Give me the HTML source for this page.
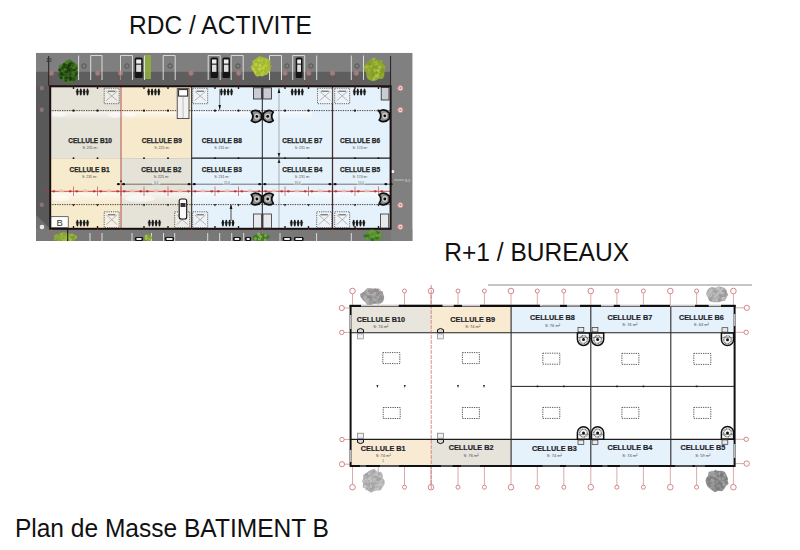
<!DOCTYPE html><html><head><meta charset="utf-8"><style>html,body{margin:0;padding:0;background:#fff;width:800px;height:550px;overflow:hidden}svg{display:block}text{font-family:"Liberation Sans",sans-serif}</style></head><body>
<svg width="800" height="550" viewBox="0 0 800 550">
<text transform="translate(129.1,33.5) scale(1.023,1.05)" font-size="24" fill="#111">RDC / ACTIVITE</text>
<text transform="translate(444.3,261) scale(1.023,1.05)" font-size="24" fill="#111">R+1 / BUREAUX</text>
<text transform="translate(14.9,537) scale(1.023,1.05)" font-size="24" fill="#111">Plan de Masse BATIMENT B</text>
<defs><clipPath id="p1"><rect x="36" y="52.8" width="376.5" height="188.2"/></clipPath></defs><g clip-path="url(#p1)">
<rect x="36.00" y="52.80" width="376.50" height="188.20" fill="#7f7f7f" />
<rect x="36.00" y="71.80" width="354.50" height="14.50" fill="#5e5e5e" />
<rect x="36.00" y="86.00" width="13.50" height="143.00" fill="#595959" />
<polygon points="36,215 49.5,228 49.5,229 36,229" fill="#727272"/>
<rect x="36.00" y="229.00" width="376.50" height="12.00" fill="#787878" />
<rect x="391.00" y="53.00" width="21.50" height="188.00" fill="#808080" />
<line x1="78.60" y1="55.50" x2="78.60" y2="80.00" stroke="#e8e8e8" stroke-width="0.9" />
<line x1="90.70" y1="55.50" x2="90.70" y2="80.00" stroke="#e8e8e8" stroke-width="0.9" />
<line x1="102.00" y1="55.50" x2="102.00" y2="80.00" stroke="#e8e8e8" stroke-width="0.9" />
<line x1="120.50" y1="55.50" x2="120.50" y2="80.00" stroke="#e8e8e8" stroke-width="0.9" />
<line x1="132.50" y1="55.50" x2="132.50" y2="80.00" stroke="#e8e8e8" stroke-width="0.9" />
<line x1="144.50" y1="55.50" x2="144.50" y2="80.00" stroke="#e8e8e8" stroke-width="0.9" />
<line x1="163.20" y1="55.50" x2="163.20" y2="80.00" stroke="#e8e8e8" stroke-width="0.9" />
<line x1="175.20" y1="55.50" x2="175.20" y2="80.00" stroke="#e8e8e8" stroke-width="0.9" />
<line x1="208.20" y1="55.50" x2="208.20" y2="80.00" stroke="#e8e8e8" stroke-width="0.9" />
<line x1="220.20" y1="55.50" x2="220.20" y2="80.00" stroke="#e8e8e8" stroke-width="0.9" />
<line x1="231.20" y1="55.50" x2="231.20" y2="80.00" stroke="#e8e8e8" stroke-width="0.9" />
<line x1="243.20" y1="55.50" x2="243.20" y2="80.00" stroke="#e8e8e8" stroke-width="0.9" />
<line x1="269.50" y1="55.50" x2="269.50" y2="80.00" stroke="#e8e8e8" stroke-width="0.9" />
<line x1="281.50" y1="55.50" x2="281.50" y2="80.00" stroke="#e8e8e8" stroke-width="0.9" />
<line x1="292.70" y1="55.50" x2="292.70" y2="80.00" stroke="#e8e8e8" stroke-width="0.9" />
<line x1="304.70" y1="55.50" x2="304.70" y2="80.00" stroke="#e8e8e8" stroke-width="0.9" />
<line x1="316.70" y1="55.50" x2="316.70" y2="80.00" stroke="#e8e8e8" stroke-width="0.9" />
<line x1="351.30" y1="55.50" x2="351.30" y2="80.00" stroke="#e8e8e8" stroke-width="0.9" />
<line x1="363.50" y1="55.50" x2="363.50" y2="80.00" stroke="#e8e8e8" stroke-width="0.9" />
<line x1="90.70" y1="55.50" x2="102.00" y2="55.50" stroke="#e0e0e0" stroke-width="0.9" />
<line x1="120.50" y1="55.50" x2="132.50" y2="55.50" stroke="#e0e0e0" stroke-width="0.9" />
<line x1="163.20" y1="55.50" x2="175.20" y2="55.50" stroke="#e0e0e0" stroke-width="0.9" />
<line x1="208.20" y1="55.50" x2="220.20" y2="55.50" stroke="#e0e0e0" stroke-width="0.9" />
<line x1="231.20" y1="55.50" x2="243.20" y2="55.50" stroke="#e0e0e0" stroke-width="0.9" />
<line x1="269.50" y1="55.50" x2="281.50" y2="55.50" stroke="#e0e0e0" stroke-width="0.9" />
<line x1="292.70" y1="55.50" x2="304.70" y2="55.50" stroke="#e0e0e0" stroke-width="0.9" />
<rect x="145.00" y="55.00" width="6.00" height="24.00" fill="#8fb03a" opacity="0.85"/>
<rect x="134.70" y="57.50" width="8.00" height="20.50" rx="1.5" fill="#151515"/>
<rect x="136.20" y="59.50" width="5.00" height="4.10" fill="#eee" />
<rect x="136.20" y="64.67" width="5.00" height="7.17" fill="#ddd" />
<rect x="210.50" y="57.50" width="7.50" height="20.50" rx="1.5" fill="#151515"/>
<rect x="212.00" y="59.50" width="4.50" height="4.10" fill="#eee" />
<rect x="212.00" y="64.67" width="4.50" height="7.17" fill="#ddd" />
<rect x="222.40" y="57.50" width="7.60" height="20.50" rx="1.5" fill="#151515"/>
<rect x="223.90" y="59.50" width="4.60" height="4.10" fill="#eee" />
<rect x="223.90" y="64.67" width="4.60" height="7.17" fill="#ddd" />
<rect x="295.70" y="57.50" width="6.80" height="20.50" rx="1.5" fill="#151515"/>
<rect x="297.20" y="59.50" width="3.80" height="4.10" fill="#eee" />
<rect x="297.20" y="64.67" width="3.80" height="7.17" fill="#ddd" />
<circle cx="84" cy="66" r="2.2" fill="none" stroke="#4a4a4a" stroke-width="0.8"/>
<circle cx="127" cy="66" r="2.2" fill="none" stroke="#4a4a4a" stroke-width="0.8"/>
<circle cx="170" cy="66" r="2.2" fill="none" stroke="#4a4a4a" stroke-width="0.8"/>
<circle cx="238" cy="66" r="2.2" fill="none" stroke="#4a4a4a" stroke-width="0.8"/>
<circle cx="287" cy="66" r="2.2" fill="none" stroke="#4a4a4a" stroke-width="0.8"/>
<circle cx="311" cy="66" r="2.2" fill="none" stroke="#4a4a4a" stroke-width="0.8"/>
<circle cx="357" cy="66" r="2.2" fill="none" stroke="#4a4a4a" stroke-width="0.8"/>
<polygon points="78.19,72.00 77.37,74.98 77.33,78.49 74.39,79.82 72.69,82.62 69.81,83.07 67.10,82.20 64.14,82.54 62.46,79.74 59.93,78.15 59.62,74.91 59.20,72.00 58.76,68.80 59.09,65.24 62.32,64.07 64.44,62.20 66.90,60.19 70.02,59.28 72.73,61.28 74.93,63.48 78.02,65.01 77.12,69.11" fill="#4a7a28"/>
<circle cx="71.15" cy="68.16" r="0.86" fill="#1a3a0c" opacity="0.75"/>
<circle cx="62.54" cy="68.83" r="1.45" fill="#1a3a0c" opacity="0.75"/>
<circle cx="62.27" cy="68.10" r="1.11" fill="#1a3a0c" opacity="0.75"/>
<circle cx="62.06" cy="68.93" r="1.25" fill="#2e5a18" opacity="0.75"/>
<circle cx="69.39" cy="65.52" r="1.72" fill="#2e5a18" opacity="0.75"/>
<circle cx="65.94" cy="80.62" r="1.47" fill="#1a3a0c" opacity="0.75"/>
<circle cx="72.29" cy="74.49" r="1.24" fill="#2e5a18" opacity="0.75"/>
<circle cx="67.84" cy="67.11" r="1.78" fill="#1a3a0c" opacity="0.75"/>
<circle cx="65.29" cy="71.74" r="1.08" fill="#2e5a18" opacity="0.75"/>
<circle cx="60.48" cy="76.80" r="0.79" fill="#2e5a18" opacity="0.75"/>
<circle cx="65.77" cy="76.68" r="1.25" fill="#2e5a18" opacity="0.75"/>
<circle cx="70.42" cy="73.05" r="1.00" fill="#1a3a0c" opacity="0.75"/>
<circle cx="75.30" cy="75.13" r="1.41" fill="#2e5a18" opacity="0.75"/>
<circle cx="67.28" cy="77.73" r="1.44" fill="#1a3a0c" opacity="0.75"/>
<circle cx="73.01" cy="69.96" r="1.37" fill="#2e5a18" opacity="0.75"/>
<circle cx="75.72" cy="75.21" r="0.84" fill="#1a3a0c" opacity="0.75"/>
<circle cx="61.40" cy="77.91" r="1.25" fill="#1a3a0c" opacity="0.75"/>
<circle cx="62.30" cy="74.28" r="1.67" fill="#2e5a18" opacity="0.75"/>
<circle cx="71.20" cy="68.36" r="1.16" fill="#2e5a18" opacity="0.75"/>
<circle cx="66.29" cy="66.69" r="0.95" fill="#1a3a0c" opacity="0.75"/>
<circle cx="70.11" cy="75.87" r="0.96" fill="#2e5a18" opacity="0.75"/>
<circle cx="70.02" cy="68.73" r="1.01" fill="#1a3a0c" opacity="0.75"/>
<circle cx="63.98" cy="74.79" r="1.32" fill="#1a3a0c" opacity="0.75"/>
<circle cx="66.14" cy="65.49" r="1.38" fill="#1a3a0c" opacity="0.75"/>
<circle cx="60.24" cy="74.58" r="1.75" fill="#2e5a18" opacity="0.75"/>
<circle cx="64.18" cy="75.55" r="1.23" fill="#2e5a18" opacity="0.75"/>
<circle cx="70.09" cy="72.79" r="0.93" fill="#1a3a0c" opacity="0.75"/>
<circle cx="73.62" cy="76.88" r="0.81" fill="#1a3a0c" opacity="0.75"/>
<circle cx="59.72" cy="69.70" r="1.38" fill="#1a3a0c" opacity="0.75"/>
<circle cx="73.23" cy="66.49" r="0.86" fill="#2e5a18" opacity="0.75"/>
<circle cx="74.92" cy="69.88" r="1.22" fill="#1a3a0c" opacity="0.75"/>
<circle cx="73.73" cy="63.58" r="1.21" fill="#2e5a18" opacity="0.75"/>
<circle cx="67.31" cy="75.01" r="1.52" fill="#2e5a18" opacity="0.75"/>
<circle cx="61.09" cy="73.12" r="1.27" fill="#1a3a0c" opacity="0.75"/>
<circle cx="74.38" cy="69.85" r="0.86" fill="#1a3a0c" opacity="0.75"/>
<circle cx="68.63" cy="66.98" r="1.41" fill="#1a3a0c" opacity="0.75"/>
<circle cx="67.04" cy="67.62" r="1.10" fill="#1a3a0c" opacity="0.75"/>
<circle cx="66.10" cy="75.33" r="1.30" fill="#2e5a18" opacity="0.75"/>
<circle cx="63.91" cy="66.14" r="1.57" fill="#1a3a0c" opacity="0.75"/>
<circle cx="71.21" cy="63.34" r="1.51" fill="#1a3a0c" opacity="0.75"/>
<circle cx="70.26" cy="78.47" r="1.50" fill="#1a3a0c" opacity="0.75"/>
<circle cx="69.86" cy="65.58" r="0.91" fill="#2e5a18" opacity="0.75"/>
<circle cx="60.03" cy="75.26" r="1.79" fill="#2e5a18" opacity="0.75"/>
<circle cx="70.45" cy="73.28" r="1.22" fill="#2e5a18" opacity="0.75"/>
<circle cx="70.36" cy="79.52" r="1.69" fill="#1a3a0c" opacity="0.75"/>
<circle cx="61.34" cy="73.04" r="1.58" fill="#1a3a0c" opacity="0.75"/>
<circle cx="69.71" cy="69.49" r="1.13" fill="#1a3a0c" opacity="0.75"/>
<circle cx="65.16" cy="72.51" r="1.57" fill="#2e5a18" opacity="0.75"/>
<circle cx="76.01" cy="77.22" r="1.49" fill="#2e5a18" opacity="0.75"/>
<circle cx="61.15" cy="77.85" r="1.50" fill="#1a3a0c" opacity="0.75"/>
<circle cx="69.47" cy="71.95" r="1.35" fill="#2e5a18" opacity="0.75"/>
<circle cx="69.41" cy="68.92" r="1.61" fill="#2e5a18" opacity="0.75"/>
<circle cx="65.70" cy="67.37" r="1.30" fill="#1a3a0c" opacity="0.75"/>
<circle cx="76.37" cy="73.22" r="1.50" fill="#1a3a0c" opacity="0.75"/>
<circle cx="59.69" cy="70.34" r="1.18" fill="#1a3a0c" opacity="0.75"/>
<circle cx="70.07" cy="68.37" r="0.98" fill="#2e5a18" opacity="0.75"/>
<circle cx="60.57" cy="71.94" r="1.06" fill="#2e5a18" opacity="0.75"/>
<circle cx="69.27" cy="70.32" r="1.51" fill="#2e5a18" opacity="0.75"/>
<circle cx="64.15" cy="64.16" r="1.27" fill="#1a3a0c" opacity="0.75"/>
<circle cx="62.28" cy="70.60" r="0.72" fill="#2e5a18" opacity="0.75"/>
<circle cx="69.53" cy="64.39" r="1.55" fill="#1a3a0c" opacity="0.75"/>
<circle cx="71.15" cy="77.87" r="1.50" fill="#1a3a0c" opacity="0.75"/>
<circle cx="65.55" cy="78.23" r="1.31" fill="#1a3a0c" opacity="0.75"/>
<circle cx="69.62" cy="70.75" r="0.91" fill="#1a3a0c" opacity="0.75"/>
<circle cx="69.25" cy="65.14" r="1.32" fill="#1a3a0c" opacity="0.75"/>
<circle cx="61.98" cy="74.71" r="1.26" fill="#1a3a0c" opacity="0.75"/>
<circle cx="66.39" cy="65.95" r="1.29" fill="#2e5a18" opacity="0.75"/>
<circle cx="64.42" cy="71.78" r="1.28" fill="#2e5a18" opacity="0.75"/>
<circle cx="76.00" cy="67.47" r="0.92" fill="#2e5a18" opacity="0.75"/>
<circle cx="70.09" cy="74.23" r="1.19" fill="#1a3a0c" opacity="0.75"/>
<circle cx="65.77" cy="66.50" r="0.93" fill="#2e5a18" opacity="0.75"/>
<circle cx="70.22" cy="62.48" r="0.87" fill="#2e5a18" opacity="0.75"/>
<circle cx="73.72" cy="79.55" r="1.76" fill="#1a3a0c" opacity="0.75"/>
<circle cx="68.35" cy="69.48" r="1.67" fill="#1a3a0c" opacity="0.75"/>
<circle cx="76.62" cy="71.41" r="0.88" fill="#2e5a18" opacity="0.75"/>
<circle cx="73.74" cy="71.77" r="1.16" fill="#2e5a18" opacity="0.75"/>
<circle cx="65.24" cy="79.77" r="0.72" fill="#2e5a18" opacity="0.75"/>
<circle cx="67.63" cy="72.34" r="1.06" fill="#2e5a18" opacity="0.75"/>
<circle cx="66.63" cy="71.85" r="1.78" fill="#1a3a0c" opacity="0.75"/>
<circle cx="70.74" cy="71.52" r="0.99" fill="#1a3a0c" opacity="0.75"/>
<circle cx="71.14" cy="69.92" r="1.53" fill="#2e5a18" opacity="0.75"/>
<circle cx="72.66" cy="65.33" r="1.74" fill="#2e5a18" opacity="0.75"/>
<circle cx="73.57" cy="79.98" r="1.33" fill="#2e5a18" opacity="0.75"/>
<circle cx="69.80" cy="73.00" r="1.46" fill="#2e5a18" opacity="0.75"/>
<circle cx="71.71" cy="69.11" r="0.72" fill="#1a3a0c" opacity="0.75"/>
<circle cx="69.06" cy="69.77" r="1.64" fill="#1a3a0c" opacity="0.75"/>
<circle cx="68.16" cy="74.93" r="0.71" fill="#2e5a18" opacity="0.75"/>
<circle cx="72.14" cy="69.90" r="0.84" fill="#1a3a0c" opacity="0.75"/>
<circle cx="76.75" cy="68.13" r="0.99" fill="#1a3a0c" opacity="0.75"/>
<circle cx="69.77" cy="76.93" r="1.04" fill="#1a3a0c" opacity="0.75"/>
<polygon points="270.48,67.00 270.59,69.88 268.78,72.09 267.37,74.44 264.78,75.20 262.51,76.51 259.97,75.92 256.90,76.85 254.71,74.83 253.60,72.11 251.87,69.87 250.36,67.00 252.72,64.40 252.31,61.03 254.90,59.39 257.14,57.70 259.69,56.03 262.56,57.14 265.27,57.67 267.91,58.91 270.42,60.81 270.23,64.23" fill="#aabb3a"/>
<circle cx="264.73" cy="60.51" r="1.40" fill="#c4d34a" opacity="0.75"/>
<circle cx="269.88" cy="66.39" r="1.62" fill="#9cb52a" opacity="0.75"/>
<circle cx="267.84" cy="70.30" r="0.98" fill="#9cb52a" opacity="0.75"/>
<circle cx="267.68" cy="69.46" r="1.12" fill="#c4d34a" opacity="0.75"/>
<circle cx="255.46" cy="62.71" r="0.75" fill="#9cb52a" opacity="0.75"/>
<circle cx="264.17" cy="71.74" r="0.99" fill="#c4d34a" opacity="0.75"/>
<circle cx="267.24" cy="65.90" r="0.97" fill="#c4d34a" opacity="0.75"/>
<circle cx="261.84" cy="70.25" r="1.07" fill="#9cb52a" opacity="0.75"/>
<circle cx="255.45" cy="67.97" r="0.92" fill="#9cb52a" opacity="0.75"/>
<circle cx="267.76" cy="71.40" r="0.86" fill="#9cb52a" opacity="0.75"/>
<circle cx="257.84" cy="69.76" r="1.39" fill="#9cb52a" opacity="0.75"/>
<circle cx="256.04" cy="63.78" r="1.53" fill="#c4d34a" opacity="0.75"/>
<circle cx="261.85" cy="59.47" r="1.24" fill="#c4d34a" opacity="0.75"/>
<circle cx="260.11" cy="60.03" r="0.75" fill="#c4d34a" opacity="0.75"/>
<circle cx="260.41" cy="58.92" r="0.85" fill="#9cb52a" opacity="0.75"/>
<circle cx="264.14" cy="61.09" r="1.68" fill="#9cb52a" opacity="0.75"/>
<circle cx="262.33" cy="67.70" r="1.40" fill="#9cb52a" opacity="0.75"/>
<circle cx="257.30" cy="71.00" r="0.76" fill="#9cb52a" opacity="0.75"/>
<circle cx="256.30" cy="61.80" r="1.24" fill="#9cb52a" opacity="0.75"/>
<circle cx="259.48" cy="67.50" r="1.73" fill="#9cb52a" opacity="0.75"/>
<circle cx="260.27" cy="65.48" r="1.51" fill="#c4d34a" opacity="0.75"/>
<circle cx="264.09" cy="59.25" r="0.96" fill="#9cb52a" opacity="0.75"/>
<circle cx="262.02" cy="74.05" r="1.21" fill="#c4d34a" opacity="0.75"/>
<circle cx="268.57" cy="71.03" r="1.02" fill="#9cb52a" opacity="0.75"/>
<circle cx="256.19" cy="62.27" r="0.79" fill="#9cb52a" opacity="0.75"/>
<circle cx="257.86" cy="73.20" r="1.46" fill="#9cb52a" opacity="0.75"/>
<circle cx="262.83" cy="67.13" r="1.00" fill="#9cb52a" opacity="0.75"/>
<circle cx="258.73" cy="60.20" r="1.02" fill="#c4d34a" opacity="0.75"/>
<circle cx="255.77" cy="68.28" r="0.83" fill="#9cb52a" opacity="0.75"/>
<circle cx="260.44" cy="68.95" r="1.22" fill="#c4d34a" opacity="0.75"/>
<circle cx="253.65" cy="69.08" r="1.76" fill="#c4d34a" opacity="0.75"/>
<circle cx="266.17" cy="66.80" r="1.71" fill="#9cb52a" opacity="0.75"/>
<circle cx="263.05" cy="67.98" r="1.52" fill="#c4d34a" opacity="0.75"/>
<circle cx="263.70" cy="66.20" r="1.60" fill="#c4d34a" opacity="0.75"/>
<circle cx="266.60" cy="62.14" r="0.95" fill="#c4d34a" opacity="0.75"/>
<circle cx="258.90" cy="68.89" r="1.74" fill="#c4d34a" opacity="0.75"/>
<circle cx="255.18" cy="71.26" r="1.16" fill="#c4d34a" opacity="0.75"/>
<circle cx="258.00" cy="74.58" r="0.70" fill="#c4d34a" opacity="0.75"/>
<circle cx="262.51" cy="64.81" r="1.72" fill="#9cb52a" opacity="0.75"/>
<circle cx="264.61" cy="64.46" r="1.11" fill="#c4d34a" opacity="0.75"/>
<circle cx="254.96" cy="72.39" r="0.78" fill="#c4d34a" opacity="0.75"/>
<circle cx="261.48" cy="58.63" r="1.01" fill="#9cb52a" opacity="0.75"/>
<circle cx="263.30" cy="63.26" r="1.73" fill="#9cb52a" opacity="0.75"/>
<circle cx="266.46" cy="65.99" r="1.05" fill="#c4d34a" opacity="0.75"/>
<circle cx="262.36" cy="61.61" r="0.73" fill="#c4d34a" opacity="0.75"/>
<circle cx="268.46" cy="62.41" r="1.30" fill="#9cb52a" opacity="0.75"/>
<circle cx="268.15" cy="69.33" r="1.20" fill="#9cb52a" opacity="0.75"/>
<circle cx="258.64" cy="63.58" r="0.75" fill="#9cb52a" opacity="0.75"/>
<circle cx="263.68" cy="71.77" r="1.01" fill="#c4d34a" opacity="0.75"/>
<circle cx="260.60" cy="57.95" r="0.99" fill="#9cb52a" opacity="0.75"/>
<circle cx="259.25" cy="73.15" r="1.13" fill="#9cb52a" opacity="0.75"/>
<circle cx="260.04" cy="65.48" r="1.25" fill="#c4d34a" opacity="0.75"/>
<circle cx="256.00" cy="65.22" r="1.07" fill="#c4d34a" opacity="0.75"/>
<circle cx="255.69" cy="69.82" r="0.97" fill="#9cb52a" opacity="0.75"/>
<circle cx="260.06" cy="68.83" r="0.96" fill="#c4d34a" opacity="0.75"/>
<circle cx="262.43" cy="63.72" r="0.72" fill="#c4d34a" opacity="0.75"/>
<circle cx="255.73" cy="72.18" r="0.93" fill="#c4d34a" opacity="0.75"/>
<circle cx="260.33" cy="68.48" r="1.01" fill="#c4d34a" opacity="0.75"/>
<circle cx="265.30" cy="71.33" r="1.39" fill="#9cb52a" opacity="0.75"/>
<circle cx="268.09" cy="71.74" r="1.12" fill="#c4d34a" opacity="0.75"/>
<polygon points="385.06,69.50 384.36,72.49 384.28,75.98 382.48,78.88 378.86,78.69 376.43,80.31 373.45,81.23 370.43,80.38 367.52,78.88 366.41,75.50 366.22,72.30 363.68,69.50 364.14,66.03 366.33,63.44 368.35,61.16 370.80,59.51 373.44,57.72 376.36,59.24 378.89,60.25 382.48,60.11 382.78,64.07 385.61,66.11" fill="#90a830"/>
<circle cx="372.48" cy="60.88" r="1.68" fill="#7f9a28" opacity="0.75"/>
<circle cx="373.74" cy="69.04" r="1.56" fill="#7f9a28" opacity="0.75"/>
<circle cx="373.84" cy="68.91" r="1.49" fill="#7f9a28" opacity="0.75"/>
<circle cx="370.60" cy="64.63" r="1.18" fill="#7f9a28" opacity="0.75"/>
<circle cx="378.63" cy="72.34" r="1.74" fill="#7f9a28" opacity="0.75"/>
<circle cx="372.14" cy="72.13" r="1.36" fill="#7f9a28" opacity="0.75"/>
<circle cx="366.07" cy="67.17" r="1.01" fill="#b0c444" opacity="0.75"/>
<circle cx="369.75" cy="62.18" r="1.22" fill="#7f9a28" opacity="0.75"/>
<circle cx="373.94" cy="69.15" r="1.15" fill="#b0c444" opacity="0.75"/>
<circle cx="378.23" cy="70.77" r="1.67" fill="#b0c444" opacity="0.75"/>
<circle cx="378.31" cy="71.51" r="1.17" fill="#b0c444" opacity="0.75"/>
<circle cx="375.18" cy="70.80" r="1.07" fill="#b0c444" opacity="0.75"/>
<circle cx="371.58" cy="73.87" r="0.71" fill="#b0c444" opacity="0.75"/>
<circle cx="374.58" cy="62.88" r="0.93" fill="#7f9a28" opacity="0.75"/>
<circle cx="371.91" cy="77.72" r="0.95" fill="#7f9a28" opacity="0.75"/>
<circle cx="374.19" cy="78.78" r="0.82" fill="#b0c444" opacity="0.75"/>
<circle cx="368.36" cy="63.53" r="1.23" fill="#7f9a28" opacity="0.75"/>
<circle cx="377.76" cy="68.50" r="1.13" fill="#7f9a28" opacity="0.75"/>
<circle cx="381.67" cy="70.58" r="1.16" fill="#7f9a28" opacity="0.75"/>
<circle cx="377.29" cy="75.17" r="1.48" fill="#b0c444" opacity="0.75"/>
<circle cx="374.00" cy="59.57" r="1.72" fill="#b0c444" opacity="0.75"/>
<circle cx="377.59" cy="76.71" r="1.28" fill="#b0c444" opacity="0.75"/>
<circle cx="382.05" cy="71.06" r="1.12" fill="#b0c444" opacity="0.75"/>
<circle cx="380.62" cy="68.92" r="0.82" fill="#7f9a28" opacity="0.75"/>
<circle cx="374.09" cy="74.75" r="1.75" fill="#7f9a28" opacity="0.75"/>
<circle cx="367.77" cy="66.33" r="1.12" fill="#b0c444" opacity="0.75"/>
<circle cx="377.43" cy="64.06" r="0.75" fill="#b0c444" opacity="0.75"/>
<circle cx="377.13" cy="76.02" r="1.19" fill="#b0c444" opacity="0.75"/>
<circle cx="369.33" cy="76.56" r="0.73" fill="#b0c444" opacity="0.75"/>
<circle cx="375.09" cy="77.05" r="1.15" fill="#b0c444" opacity="0.75"/>
<circle cx="376.70" cy="69.91" r="1.71" fill="#b0c444" opacity="0.75"/>
<circle cx="375.59" cy="71.29" r="1.37" fill="#b0c444" opacity="0.75"/>
<circle cx="373.75" cy="79.15" r="1.38" fill="#b0c444" opacity="0.75"/>
<circle cx="374.83" cy="61.50" r="1.72" fill="#b0c444" opacity="0.75"/>
<circle cx="382.77" cy="69.70" r="1.71" fill="#7f9a28" opacity="0.75"/>
<circle cx="378.80" cy="70.13" r="1.22" fill="#b0c444" opacity="0.75"/>
<circle cx="379.98" cy="67.88" r="0.98" fill="#b0c444" opacity="0.75"/>
<circle cx="376.08" cy="66.77" r="1.25" fill="#7f9a28" opacity="0.75"/>
<circle cx="377.49" cy="61.61" r="1.61" fill="#7f9a28" opacity="0.75"/>
<circle cx="371.32" cy="66.30" r="1.05" fill="#b0c444" opacity="0.75"/>
<circle cx="376.42" cy="62.34" r="1.26" fill="#b0c444" opacity="0.75"/>
<circle cx="375.07" cy="65.18" r="0.77" fill="#7f9a28" opacity="0.75"/>
<circle cx="368.65" cy="70.30" r="0.88" fill="#b0c444" opacity="0.75"/>
<circle cx="381.79" cy="62.86" r="0.99" fill="#7f9a28" opacity="0.75"/>
<circle cx="376.42" cy="75.25" r="1.79" fill="#b0c444" opacity="0.75"/>
<circle cx="376.27" cy="72.14" r="1.21" fill="#7f9a28" opacity="0.75"/>
<circle cx="374.89" cy="60.45" r="1.43" fill="#7f9a28" opacity="0.75"/>
<circle cx="375.82" cy="64.79" r="1.01" fill="#b0c444" opacity="0.75"/>
<circle cx="369.65" cy="75.47" r="0.92" fill="#7f9a28" opacity="0.75"/>
<circle cx="376.52" cy="73.36" r="1.01" fill="#7f9a28" opacity="0.75"/>
<circle cx="372.56" cy="74.59" r="1.79" fill="#7f9a28" opacity="0.75"/>
<circle cx="373.63" cy="67.46" r="1.21" fill="#7f9a28" opacity="0.75"/>
<circle cx="379.71" cy="73.33" r="1.60" fill="#b0c444" opacity="0.75"/>
<circle cx="376.15" cy="68.75" r="1.02" fill="#7f9a28" opacity="0.75"/>
<circle cx="381.44" cy="71.79" r="1.61" fill="#7f9a28" opacity="0.75"/>
<circle cx="379.60" cy="67.15" r="1.65" fill="#b0c444" opacity="0.75"/>
<circle cx="368.70" cy="64.32" r="1.43" fill="#7f9a28" opacity="0.75"/>
<circle cx="380.31" cy="74.02" r="1.38" fill="#7f9a28" opacity="0.75"/>
<circle cx="379.68" cy="70.72" r="0.75" fill="#b0c444" opacity="0.75"/>
<circle cx="382.41" cy="71.47" r="1.71" fill="#7f9a28" opacity="0.75"/>
<line x1="51.30" y1="74.00" x2="51.30" y2="86.00" stroke="#8a4a4a" stroke-width="0.7" />
<circle cx="51.3" cy="73.2" r="2.3" fill="#b48a8a" stroke="#c77" stroke-width="0.6" opacity="0.75"/>
<line x1="97.70" y1="74.00" x2="97.70" y2="86.00" stroke="#8a4a4a" stroke-width="0.7" />
<circle cx="97.7" cy="73.2" r="2.3" fill="#b48a8a" stroke="#c77" stroke-width="0.6" opacity="0.75"/>
<line x1="120.60" y1="74.00" x2="120.60" y2="86.00" stroke="#8a4a4a" stroke-width="0.7" />
<circle cx="120.6" cy="73.2" r="2.3" fill="#b48a8a" stroke="#c77" stroke-width="0.6" opacity="0.75"/>
<line x1="191.00" y1="74.00" x2="191.00" y2="86.00" stroke="#8a4a4a" stroke-width="0.7" />
<circle cx="191" cy="73.2" r="2.3" fill="#b48a8a" stroke="#c77" stroke-width="0.6" opacity="0.75"/>
<line x1="238.75" y1="74.00" x2="238.75" y2="86.00" stroke="#8a4a4a" stroke-width="0.7" />
<circle cx="238.75" cy="73.2" r="2.3" fill="#b48a8a" stroke="#c77" stroke-width="0.6" opacity="0.75"/>
<line x1="285.00" y1="74.00" x2="285.00" y2="86.00" stroke="#8a4a4a" stroke-width="0.7" />
<circle cx="285" cy="73.2" r="2.3" fill="#b48a8a" stroke="#c77" stroke-width="0.6" opacity="0.75"/>
<line x1="308.75" y1="74.00" x2="308.75" y2="86.00" stroke="#8a4a4a" stroke-width="0.7" />
<circle cx="308.75" cy="73.2" r="2.3" fill="#b48a8a" stroke="#c77" stroke-width="0.6" opacity="0.75"/>
<line x1="332.50" y1="74.00" x2="332.50" y2="86.00" stroke="#8a4a4a" stroke-width="0.7" />
<circle cx="332.5" cy="73.2" r="2.3" fill="#b48a8a" stroke="#c77" stroke-width="0.6" opacity="0.75"/>
<line x1="356.25" y1="74.00" x2="356.25" y2="86.00" stroke="#8a4a4a" stroke-width="0.7" />
<circle cx="356.25" cy="73.2" r="2.3" fill="#b48a8a" stroke="#c77" stroke-width="0.6" opacity="0.75"/>
<line x1="48.70" y1="56.00" x2="48.70" y2="86.00" stroke="#222" stroke-width="1" />
<line x1="390.60" y1="56.00" x2="390.60" y2="86.00" stroke="#222" stroke-width="1" />
<text x="46" y="62" font-size="5" fill="#222">13</text>
<circle cx="41.80" cy="88.00" r="2.20" fill="#9a7a7a" opacity="0.8"/>
<circle cx="41.80" cy="109.80" r="2.20" fill="#9a7a7a" opacity="0.8"/>
<circle cx="41.80" cy="204.70" r="2.20" fill="#9a7a7a" opacity="0.8"/>
<circle cx="42.00" cy="227.00" r="2.30" fill="#f0e8e8" />
<circle cx="400.40" cy="88.20" r="2.60" fill="#f4e4e4" stroke="#d08080" stroke-width="1"/>
<circle cx="400.40" cy="88.20" r="1.10" fill="#d08080" />
<circle cx="400.40" cy="110.00" r="2.60" fill="#f4e4e4" stroke="#d08080" stroke-width="1"/>
<circle cx="400.40" cy="110.00" r="1.10" fill="#d08080" />
<circle cx="400.40" cy="205.20" r="2.60" fill="#f4e4e4" stroke="#d08080" stroke-width="1"/>
<circle cx="400.40" cy="205.20" r="1.10" fill="#d08080" />
<circle cx="400.40" cy="226.80" r="2.60" fill="#f4e4e4" stroke="#d08080" stroke-width="1"/>
<circle cx="400.40" cy="226.80" r="1.10" fill="#d08080" />
<circle cx="392.70" cy="171.60" r="2.00" fill="#f4f4f4" stroke="#333" stroke-width="0.4"/>
<line x1="394.00" y1="180.00" x2="404.00" y2="180.00" stroke="#ddd" stroke-width="0.7" />
<text x="405" y="182" font-size="4" fill="#ddd">8.5</text>
<rect x="50.00" y="86.30" width="71.00" height="71.90" fill="#e5e2d8" />
<rect x="50.00" y="158.20" width="71.00" height="70.60" fill="#f7ebce" />
<rect x="121.00" y="86.30" width="70.70" height="71.90" fill="#f7eacc" />
<rect x="121.00" y="158.20" width="70.70" height="70.60" fill="#e5e2d8" />
<rect x="191.70" y="86.30" width="70.60" height="71.90" fill="#e5f2fb" />
<rect x="191.70" y="158.20" width="70.60" height="70.60" fill="#e5f2fb" />
<rect x="262.30" y="86.30" width="70.20" height="71.90" fill="#e5f2fb" />
<rect x="262.30" y="158.20" width="70.20" height="70.60" fill="#e5f2fb" />
<rect x="332.50" y="86.30" width="58.00" height="71.90" fill="#e5f2fb" />
<rect x="332.50" y="158.20" width="58.00" height="70.60" fill="#e5f2fb" />
<defs><linearGradient id="gl1" x1="0" y1="0" x2="0" y2="1"><stop offset="0" stop-color="#fff" stop-opacity="0.7"/><stop offset="1" stop-color="#fff" stop-opacity="0"/></linearGradient></defs>
<rect x="51.00" y="111.50" width="261.00" height="8.00" fill="url(#gl1)" />
<rect x="51.00" y="192.50" width="339.00" height="11.00" fill="url(#gl1)" />
<ellipse cx="59.0" cy="114.5" rx="7.0" ry="2.5" fill="#fff" opacity="0.5"/>
<ellipse cx="115.0" cy="115.0" rx="7.0" ry="3.0" fill="#fff" opacity="0.5"/>
<ellipse cx="130.0" cy="114.5" rx="6.0" ry="2.5" fill="#fff" opacity="0.5"/>
<ellipse cx="61.0" cy="198.0" rx="9.0" ry="3.0" fill="#fff" opacity="0.5"/>
<ellipse cx="140.0" cy="198.5" rx="15.0" ry="3.5" fill="#fff" opacity="0.5"/>
<line x1="50.00" y1="110.60" x2="390.00" y2="110.60" stroke="#3a2a2a" stroke-width="0.9" stroke-dasharray="1.3 1.1"/>
<line x1="50.00" y1="204.60" x2="390.00" y2="204.60" stroke="#3a2a2a" stroke-width="0.9" stroke-dasharray="1.3 1.1"/>
<rect x="72.60" y="109.60" width="1.80" height="2.00" fill="#111" />
<polygon points="72.3,204.2 74.7,204.2 73.5,206.6" fill="#111"/>
<rect x="96.60" y="109.60" width="1.80" height="2.00" fill="#111" />
<polygon points="96.3,204.2 98.7,204.2 97.5,206.6" fill="#111"/>
<rect x="143.10" y="109.60" width="1.80" height="2.00" fill="#111" />
<polygon points="142.8,204.2 145.2,204.2 144,206.6" fill="#111"/>
<rect x="167.10" y="109.60" width="1.80" height="2.00" fill="#111" />
<polygon points="166.8,204.2 169.2,204.2 168,206.6" fill="#111"/>
<rect x="214.10" y="109.60" width="1.80" height="2.00" fill="#111" />
<polygon points="213.8,204.2 216.2,204.2 215,206.6" fill="#111"/>
<rect x="237.60" y="109.60" width="1.80" height="2.00" fill="#111" />
<polygon points="237.3,204.2 239.7,204.2 238.5,206.6" fill="#111"/>
<rect x="284.10" y="109.60" width="1.80" height="2.00" fill="#111" />
<polygon points="283.8,204.2 286.2,204.2 285,206.6" fill="#111"/>
<rect x="307.60" y="109.60" width="1.80" height="2.00" fill="#111" />
<polygon points="307.3,204.2 309.7,204.2 308.5,206.6" fill="#111"/>
<rect x="354.10" y="109.60" width="1.80" height="2.00" fill="#111" />
<polygon points="353.8,204.2 356.2,204.2 355,206.6" fill="#111"/>
<rect x="377.60" y="109.60" width="1.80" height="2.00" fill="#111" />
<polygon points="377.3,204.2 379.7,204.2 378.5,206.6" fill="#111"/>
<line x1="50.00" y1="191.30" x2="390.00" y2="191.30" stroke="#dc4a4a" stroke-width="1" />
<line x1="50.50" y1="186.50" x2="50.50" y2="196.00" stroke="#c05050" stroke-width="0.7" />
<ellipse cx="47.20" cy="191.3" rx="1.5" ry="1.1" fill="#b03a3a"/>
<ellipse cx="53.80" cy="191.3" rx="1.5" ry="1.1" fill="#b03a3a"/>
<line x1="73.50" y1="186.50" x2="73.50" y2="196.00" stroke="#c05050" stroke-width="0.7" />
<ellipse cx="70.20" cy="191.3" rx="1.5" ry="1.1" fill="#b03a3a"/>
<ellipse cx="76.80" cy="191.3" rx="1.5" ry="1.1" fill="#b03a3a"/>
<line x1="97.50" y1="186.50" x2="97.50" y2="196.00" stroke="#c05050" stroke-width="0.7" />
<ellipse cx="94.20" cy="191.3" rx="1.5" ry="1.1" fill="#b03a3a"/>
<ellipse cx="100.80" cy="191.3" rx="1.5" ry="1.1" fill="#b03a3a"/>
<line x1="121.00" y1="186.50" x2="121.00" y2="196.00" stroke="#c05050" stroke-width="0.7" />
<ellipse cx="117.70" cy="191.3" rx="1.5" ry="1.1" fill="#b03a3a"/>
<ellipse cx="124.30" cy="191.3" rx="1.5" ry="1.1" fill="#b03a3a"/>
<line x1="144.00" y1="186.50" x2="144.00" y2="196.00" stroke="#c05050" stroke-width="0.7" />
<ellipse cx="140.70" cy="191.3" rx="1.5" ry="1.1" fill="#b03a3a"/>
<ellipse cx="147.30" cy="191.3" rx="1.5" ry="1.1" fill="#b03a3a"/>
<line x1="168.00" y1="186.50" x2="168.00" y2="196.00" stroke="#c05050" stroke-width="0.7" />
<ellipse cx="164.70" cy="191.3" rx="1.5" ry="1.1" fill="#b03a3a"/>
<ellipse cx="171.30" cy="191.3" rx="1.5" ry="1.1" fill="#b03a3a"/>
<line x1="191.70" y1="186.50" x2="191.70" y2="196.00" stroke="#c05050" stroke-width="0.7" />
<ellipse cx="188.40" cy="191.3" rx="1.5" ry="1.1" fill="#b03a3a"/>
<ellipse cx="195.00" cy="191.3" rx="1.5" ry="1.1" fill="#b03a3a"/>
<line x1="215.00" y1="186.50" x2="215.00" y2="196.00" stroke="#c05050" stroke-width="0.7" />
<ellipse cx="211.70" cy="191.3" rx="1.5" ry="1.1" fill="#b03a3a"/>
<ellipse cx="218.30" cy="191.3" rx="1.5" ry="1.1" fill="#b03a3a"/>
<line x1="238.50" y1="186.50" x2="238.50" y2="196.00" stroke="#c05050" stroke-width="0.7" />
<ellipse cx="235.20" cy="191.3" rx="1.5" ry="1.1" fill="#b03a3a"/>
<ellipse cx="241.80" cy="191.3" rx="1.5" ry="1.1" fill="#b03a3a"/>
<line x1="262.30" y1="186.50" x2="262.30" y2="196.00" stroke="#c05050" stroke-width="0.7" />
<ellipse cx="259.00" cy="191.3" rx="1.5" ry="1.1" fill="#b03a3a"/>
<ellipse cx="265.60" cy="191.3" rx="1.5" ry="1.1" fill="#b03a3a"/>
<line x1="285.00" y1="186.50" x2="285.00" y2="196.00" stroke="#c05050" stroke-width="0.7" />
<ellipse cx="281.70" cy="191.3" rx="1.5" ry="1.1" fill="#b03a3a"/>
<ellipse cx="288.30" cy="191.3" rx="1.5" ry="1.1" fill="#b03a3a"/>
<line x1="308.50" y1="186.50" x2="308.50" y2="196.00" stroke="#c05050" stroke-width="0.7" />
<ellipse cx="305.20" cy="191.3" rx="1.5" ry="1.1" fill="#b03a3a"/>
<ellipse cx="311.80" cy="191.3" rx="1.5" ry="1.1" fill="#b03a3a"/>
<line x1="332.50" y1="186.50" x2="332.50" y2="196.00" stroke="#c05050" stroke-width="0.7" />
<ellipse cx="329.20" cy="191.3" rx="1.5" ry="1.1" fill="#b03a3a"/>
<ellipse cx="335.80" cy="191.3" rx="1.5" ry="1.1" fill="#b03a3a"/>
<line x1="355.00" y1="186.50" x2="355.00" y2="196.00" stroke="#c05050" stroke-width="0.7" />
<ellipse cx="351.70" cy="191.3" rx="1.5" ry="1.1" fill="#b03a3a"/>
<ellipse cx="358.30" cy="191.3" rx="1.5" ry="1.1" fill="#b03a3a"/>
<line x1="378.50" y1="186.50" x2="378.50" y2="196.00" stroke="#c05050" stroke-width="0.7" />
<ellipse cx="375.20" cy="191.3" rx="1.5" ry="1.1" fill="#b03a3a"/>
<ellipse cx="381.80" cy="191.3" rx="1.5" ry="1.1" fill="#b03a3a"/>
<rect x="59.30" y="190.20" width="4.40" height="2.20" fill="#f3d8c8" opacity="0.8"/>
<text x="61.5" y="192.3" font-size="2.6" text-anchor="middle" fill="#d09080">5.0</text>
<rect x="83.30" y="190.20" width="4.40" height="2.20" fill="#f3d8c8" opacity="0.8"/>
<text x="85.5" y="192.3" font-size="2.6" text-anchor="middle" fill="#d09080">5.0</text>
<rect x="106.80" y="190.20" width="4.40" height="2.20" fill="#f3d8c8" opacity="0.8"/>
<text x="109" y="192.3" font-size="2.6" text-anchor="middle" fill="#d09080">5.0</text>
<rect x="130.30" y="190.20" width="4.40" height="2.20" fill="#f3d8c8" opacity="0.8"/>
<text x="132.5" y="192.3" font-size="2.6" text-anchor="middle" fill="#d09080">5.0</text>
<rect x="153.80" y="190.20" width="4.40" height="2.20" fill="#f3d8c8" opacity="0.8"/>
<text x="156" y="192.3" font-size="2.6" text-anchor="middle" fill="#d09080">5.0</text>
<rect x="177.80" y="190.20" width="4.40" height="2.20" fill="#f3d8c8" opacity="0.8"/>
<text x="180" y="192.3" font-size="2.6" text-anchor="middle" fill="#d09080">5.0</text>
<rect x="200.80" y="190.20" width="4.40" height="2.20" fill="#f3d8c8" opacity="0.8"/>
<text x="203" y="192.3" font-size="2.6" text-anchor="middle" fill="#d09080">5.0</text>
<rect x="224.80" y="190.20" width="4.40" height="2.20" fill="#f3d8c8" opacity="0.8"/>
<text x="227" y="192.3" font-size="2.6" text-anchor="middle" fill="#d09080">5.0</text>
<rect x="247.80" y="190.20" width="4.40" height="2.20" fill="#f3d8c8" opacity="0.8"/>
<text x="250" y="192.3" font-size="2.6" text-anchor="middle" fill="#d09080">5.0</text>
<rect x="271.80" y="190.20" width="4.40" height="2.20" fill="#f3d8c8" opacity="0.8"/>
<text x="274" y="192.3" font-size="2.6" text-anchor="middle" fill="#d09080">5.0</text>
<rect x="294.80" y="190.20" width="4.40" height="2.20" fill="#f3d8c8" opacity="0.8"/>
<text x="297" y="192.3" font-size="2.6" text-anchor="middle" fill="#d09080">5.0</text>
<rect x="318.30" y="190.20" width="4.40" height="2.20" fill="#f3d8c8" opacity="0.8"/>
<text x="320.5" y="192.3" font-size="2.6" text-anchor="middle" fill="#d09080">5.0</text>
<rect x="341.80" y="190.20" width="4.40" height="2.20" fill="#f3d8c8" opacity="0.8"/>
<text x="344" y="192.3" font-size="2.6" text-anchor="middle" fill="#d09080">5.0</text>
<rect x="364.80" y="190.20" width="4.40" height="2.20" fill="#f3d8c8" opacity="0.8"/>
<text x="367" y="192.3" font-size="2.6" text-anchor="middle" fill="#d09080">5.0</text>
<line x1="121.00" y1="184.20" x2="390.00" y2="184.20" stroke="#2e2e2e" stroke-width="0.65" />
<ellipse cx="123.60" cy="184.2" rx="1.6" ry="1.1" fill="#111"/>
<ellipse cx="118.40" cy="184.2" rx="1.6" ry="1.1" fill="#111"/>
<ellipse cx="194.30" cy="184.2" rx="1.6" ry="1.1" fill="#111"/>
<ellipse cx="189.10" cy="184.2" rx="1.6" ry="1.1" fill="#111"/>
<ellipse cx="264.90" cy="184.2" rx="1.6" ry="1.1" fill="#111"/>
<ellipse cx="259.70" cy="184.2" rx="1.6" ry="1.1" fill="#111"/>
<ellipse cx="335.10" cy="184.2" rx="1.6" ry="1.1" fill="#111"/>
<ellipse cx="329.90" cy="184.2" rx="1.6" ry="1.1" fill="#111"/>
<ellipse cx="391.10" cy="184.2" rx="1.6" ry="1.1" fill="#111"/>
<ellipse cx="385.90" cy="184.2" rx="1.6" ry="1.1" fill="#111"/>
<rect x="152.30" y="181.80" width="8.00" height="2.60" fill="#e8f0f4" opacity="0.85"/>
<text x="156.3" y="183.8" font-size="3" text-anchor="middle" fill="#555">6.0</text>
<rect x="223.00" y="181.80" width="8.00" height="2.60" fill="#e8f0f4" opacity="0.85"/>
<text x="227" y="183.8" font-size="3" text-anchor="middle" fill="#555">15.0</text>
<rect x="293.40" y="181.80" width="8.00" height="2.60" fill="#e8f0f4" opacity="0.85"/>
<text x="297.4" y="183.8" font-size="3" text-anchor="middle" fill="#555">15.0</text>
<rect x="357.00" y="181.80" width="8.00" height="2.60" fill="#e8f0f4" opacity="0.85"/>
<text x="361" y="183.8" font-size="3" text-anchor="middle" fill="#555">15.0</text>
<circle cx="121.00" cy="181.30" r="1.10" fill="#111" />
<line x1="121.00" y1="86.50" x2="121.00" y2="228.50" stroke="#a83e3e" stroke-width="0.9" />
<line x1="191.70" y1="86.30" x2="191.70" y2="228.80" stroke="#222" stroke-width="1" />
<line x1="262.30" y1="86.30" x2="262.30" y2="228.80" stroke="#222" stroke-width="1" />
<line x1="332.50" y1="86.30" x2="332.50" y2="228.80" stroke="#4a2a2a" stroke-width="1.3" />
<line x1="191.70" y1="158.20" x2="390.00" y2="158.20" stroke="#1e1e1e" stroke-width="1.3" />
<rect x="72.70" y="157.40" width="1.60" height="1.60" fill="#111" />
<rect x="96.70" y="157.40" width="1.60" height="1.60" fill="#111" />
<rect x="143.20" y="157.40" width="1.60" height="1.60" fill="#111" />
<rect x="167.20" y="157.40" width="1.60" height="1.60" fill="#111" />
<rect x="214.20" y="157.40" width="1.60" height="1.60" fill="#111" />
<rect x="237.70" y="157.40" width="1.60" height="1.60" fill="#111" />
<rect x="284.20" y="157.40" width="1.60" height="1.60" fill="#111" />
<rect x="307.70" y="157.40" width="1.60" height="1.60" fill="#111" />
<rect x="354.20" y="157.40" width="1.60" height="1.60" fill="#111" />
<rect x="377.70" y="157.40" width="1.60" height="1.60" fill="#111" />
<polygon points="277.6,153 280.4,153 279,157.5" fill="#111"/><polygon points="277.6,163 280.4,163 279,158.5" fill="#111"/>
<rect x="50.2" y="86.3" width="340.4" height="142.5" fill="none" stroke="#1a0e0e" stroke-width="2"/>
<rect x="72.80" y="86.00" width="1.40" height="3.00" fill="#2a1a1a" />
<rect x="72.80" y="226.00" width="1.40" height="3.00" fill="#2a1a1a" />
<rect x="96.80" y="86.00" width="1.40" height="3.00" fill="#2a1a1a" />
<rect x="96.80" y="226.00" width="1.40" height="3.00" fill="#2a1a1a" />
<rect x="143.30" y="86.00" width="1.40" height="3.00" fill="#2a1a1a" />
<rect x="143.30" y="226.00" width="1.40" height="3.00" fill="#2a1a1a" />
<rect x="167.30" y="86.00" width="1.40" height="3.00" fill="#2a1a1a" />
<rect x="167.30" y="226.00" width="1.40" height="3.00" fill="#2a1a1a" />
<rect x="214.30" y="86.00" width="1.40" height="3.00" fill="#2a1a1a" />
<rect x="214.30" y="226.00" width="1.40" height="3.00" fill="#2a1a1a" />
<rect x="237.80" y="86.00" width="1.40" height="3.00" fill="#2a1a1a" />
<rect x="237.80" y="226.00" width="1.40" height="3.00" fill="#2a1a1a" />
<rect x="284.30" y="86.00" width="1.40" height="3.00" fill="#2a1a1a" />
<rect x="284.30" y="226.00" width="1.40" height="3.00" fill="#2a1a1a" />
<rect x="307.80" y="86.00" width="1.40" height="3.00" fill="#2a1a1a" />
<rect x="307.80" y="226.00" width="1.40" height="3.00" fill="#2a1a1a" />
<rect x="354.30" y="86.00" width="1.40" height="3.00" fill="#2a1a1a" />
<rect x="354.30" y="226.00" width="1.40" height="3.00" fill="#2a1a1a" />
<rect x="377.80" y="86.00" width="1.40" height="3.00" fill="#2a1a1a" />
<rect x="377.80" y="226.00" width="1.40" height="3.00" fill="#2a1a1a" />
<ellipse cx="77.39" cy="92.05" rx="1.1" ry="3.57" fill="#1a1a1a"/>
<line x1="75.69" y1="91.62" x2="79.09" y2="91.62" stroke="#1a1a1a" stroke-width="0.6" />
<ellipse cx="80.76" cy="92.05" rx="1.1" ry="3.57" fill="#1a1a1a"/>
<line x1="79.06" y1="91.62" x2="82.46" y2="91.62" stroke="#1a1a1a" stroke-width="0.6" />
<ellipse cx="84.14" cy="92.05" rx="1.1" ry="3.57" fill="#1a1a1a"/>
<line x1="82.44" y1="91.62" x2="85.84" y2="91.62" stroke="#1a1a1a" stroke-width="0.6" />
<ellipse cx="87.51" cy="92.05" rx="1.1" ry="3.57" fill="#1a1a1a"/>
<line x1="85.81" y1="91.62" x2="89.21" y2="91.62" stroke="#1a1a1a" stroke-width="0.6" />
<ellipse cx="148.69" cy="92.05" rx="1.1" ry="3.57" fill="#1a1a1a"/>
<line x1="146.99" y1="91.62" x2="150.39" y2="91.62" stroke="#1a1a1a" stroke-width="0.6" />
<ellipse cx="152.06" cy="92.05" rx="1.1" ry="3.57" fill="#1a1a1a"/>
<line x1="150.36" y1="91.62" x2="153.76" y2="91.62" stroke="#1a1a1a" stroke-width="0.6" />
<ellipse cx="155.44" cy="92.05" rx="1.1" ry="3.57" fill="#1a1a1a"/>
<line x1="153.74" y1="91.62" x2="157.14" y2="91.62" stroke="#1a1a1a" stroke-width="0.6" />
<ellipse cx="158.81" cy="92.05" rx="1.1" ry="3.57" fill="#1a1a1a"/>
<line x1="157.11" y1="91.62" x2="160.51" y2="91.62" stroke="#1a1a1a" stroke-width="0.6" />
<ellipse cx="221.39" cy="92.05" rx="1.1" ry="3.57" fill="#1a1a1a"/>
<line x1="219.69" y1="91.62" x2="223.09" y2="91.62" stroke="#1a1a1a" stroke-width="0.6" />
<ellipse cx="224.76" cy="92.05" rx="1.1" ry="3.57" fill="#1a1a1a"/>
<line x1="223.06" y1="91.62" x2="226.46" y2="91.62" stroke="#1a1a1a" stroke-width="0.6" />
<ellipse cx="228.14" cy="92.05" rx="1.1" ry="3.57" fill="#1a1a1a"/>
<line x1="226.44" y1="91.62" x2="229.84" y2="91.62" stroke="#1a1a1a" stroke-width="0.6" />
<ellipse cx="231.51" cy="92.05" rx="1.1" ry="3.57" fill="#1a1a1a"/>
<line x1="229.81" y1="91.62" x2="233.21" y2="91.62" stroke="#1a1a1a" stroke-width="0.6" />
<ellipse cx="292.19" cy="92.05" rx="1.1" ry="3.57" fill="#1a1a1a"/>
<line x1="290.49" y1="91.62" x2="293.89" y2="91.62" stroke="#1a1a1a" stroke-width="0.6" />
<ellipse cx="295.56" cy="92.05" rx="1.1" ry="3.57" fill="#1a1a1a"/>
<line x1="293.86" y1="91.62" x2="297.26" y2="91.62" stroke="#1a1a1a" stroke-width="0.6" />
<ellipse cx="298.94" cy="92.05" rx="1.1" ry="3.57" fill="#1a1a1a"/>
<line x1="297.24" y1="91.62" x2="300.64" y2="91.62" stroke="#1a1a1a" stroke-width="0.6" />
<ellipse cx="302.31" cy="92.05" rx="1.1" ry="3.57" fill="#1a1a1a"/>
<line x1="300.61" y1="91.62" x2="304.01" y2="91.62" stroke="#1a1a1a" stroke-width="0.6" />
<ellipse cx="354.39" cy="92.05" rx="1.1" ry="3.57" fill="#1a1a1a"/>
<line x1="352.69" y1="91.62" x2="356.09" y2="91.62" stroke="#1a1a1a" stroke-width="0.6" />
<ellipse cx="357.76" cy="92.05" rx="1.1" ry="3.57" fill="#1a1a1a"/>
<line x1="356.06" y1="91.62" x2="359.46" y2="91.62" stroke="#1a1a1a" stroke-width="0.6" />
<ellipse cx="361.14" cy="92.05" rx="1.1" ry="3.57" fill="#1a1a1a"/>
<line x1="359.44" y1="91.62" x2="362.84" y2="91.62" stroke="#1a1a1a" stroke-width="0.6" />
<ellipse cx="364.51" cy="92.05" rx="1.1" ry="3.57" fill="#1a1a1a"/>
<line x1="362.81" y1="91.62" x2="366.21" y2="91.62" stroke="#1a1a1a" stroke-width="0.6" />
<ellipse cx="77.39" cy="223.10" rx="1.1" ry="3.44" fill="#1a1a1a"/>
<line x1="75.69" y1="222.69" x2="79.09" y2="222.69" stroke="#1a1a1a" stroke-width="0.6" />
<ellipse cx="80.76" cy="223.10" rx="1.1" ry="3.44" fill="#1a1a1a"/>
<line x1="79.06" y1="222.69" x2="82.46" y2="222.69" stroke="#1a1a1a" stroke-width="0.6" />
<ellipse cx="84.14" cy="223.10" rx="1.1" ry="3.44" fill="#1a1a1a"/>
<line x1="82.44" y1="222.69" x2="85.84" y2="222.69" stroke="#1a1a1a" stroke-width="0.6" />
<ellipse cx="87.51" cy="223.10" rx="1.1" ry="3.44" fill="#1a1a1a"/>
<line x1="85.81" y1="222.69" x2="89.21" y2="222.69" stroke="#1a1a1a" stroke-width="0.6" />
<ellipse cx="149.39" cy="223.10" rx="1.1" ry="3.44" fill="#1a1a1a"/>
<line x1="147.69" y1="222.69" x2="151.09" y2="222.69" stroke="#1a1a1a" stroke-width="0.6" />
<ellipse cx="152.76" cy="223.10" rx="1.1" ry="3.44" fill="#1a1a1a"/>
<line x1="151.06" y1="222.69" x2="154.46" y2="222.69" stroke="#1a1a1a" stroke-width="0.6" />
<ellipse cx="156.14" cy="223.10" rx="1.1" ry="3.44" fill="#1a1a1a"/>
<line x1="154.44" y1="222.69" x2="157.84" y2="222.69" stroke="#1a1a1a" stroke-width="0.6" />
<ellipse cx="159.51" cy="223.10" rx="1.1" ry="3.44" fill="#1a1a1a"/>
<line x1="157.81" y1="222.69" x2="161.21" y2="222.69" stroke="#1a1a1a" stroke-width="0.6" />
<ellipse cx="222.89" cy="223.10" rx="1.1" ry="3.44" fill="#1a1a1a"/>
<line x1="221.19" y1="222.69" x2="224.59" y2="222.69" stroke="#1a1a1a" stroke-width="0.6" />
<ellipse cx="226.26" cy="223.10" rx="1.1" ry="3.44" fill="#1a1a1a"/>
<line x1="224.56" y1="222.69" x2="227.96" y2="222.69" stroke="#1a1a1a" stroke-width="0.6" />
<ellipse cx="229.64" cy="223.10" rx="1.1" ry="3.44" fill="#1a1a1a"/>
<line x1="227.94" y1="222.69" x2="231.34" y2="222.69" stroke="#1a1a1a" stroke-width="0.6" />
<ellipse cx="233.01" cy="223.10" rx="1.1" ry="3.44" fill="#1a1a1a"/>
<line x1="231.31" y1="222.69" x2="234.71" y2="222.69" stroke="#1a1a1a" stroke-width="0.6" />
<ellipse cx="291.39" cy="223.10" rx="1.1" ry="3.44" fill="#1a1a1a"/>
<line x1="289.69" y1="222.69" x2="293.09" y2="222.69" stroke="#1a1a1a" stroke-width="0.6" />
<ellipse cx="294.76" cy="223.10" rx="1.1" ry="3.44" fill="#1a1a1a"/>
<line x1="293.06" y1="222.69" x2="296.46" y2="222.69" stroke="#1a1a1a" stroke-width="0.6" />
<ellipse cx="298.14" cy="223.10" rx="1.1" ry="3.44" fill="#1a1a1a"/>
<line x1="296.44" y1="222.69" x2="299.84" y2="222.69" stroke="#1a1a1a" stroke-width="0.6" />
<ellipse cx="301.51" cy="223.10" rx="1.1" ry="3.44" fill="#1a1a1a"/>
<line x1="299.81" y1="222.69" x2="303.21" y2="222.69" stroke="#1a1a1a" stroke-width="0.6" />
<ellipse cx="353.69" cy="223.10" rx="1.1" ry="3.44" fill="#1a1a1a"/>
<line x1="351.99" y1="222.69" x2="355.39" y2="222.69" stroke="#1a1a1a" stroke-width="0.6" />
<ellipse cx="357.06" cy="223.10" rx="1.1" ry="3.44" fill="#1a1a1a"/>
<line x1="355.36" y1="222.69" x2="358.76" y2="222.69" stroke="#1a1a1a" stroke-width="0.6" />
<ellipse cx="360.44" cy="223.10" rx="1.1" ry="3.44" fill="#1a1a1a"/>
<line x1="358.74" y1="222.69" x2="362.14" y2="222.69" stroke="#1a1a1a" stroke-width="0.6" />
<ellipse cx="363.81" cy="223.10" rx="1.1" ry="3.44" fill="#1a1a1a"/>
<line x1="362.11" y1="222.69" x2="365.51" y2="222.69" stroke="#1a1a1a" stroke-width="0.6" />
<rect x="104.20" y="88.20" width="15.00" height="15.50" fill="#f4f4f4" fill-opacity="0.55" stroke="#444" stroke-width="0.8" stroke-dasharray="1.2 1"/>
<line x1="106.20" y1="91.20" x2="117.20" y2="100.70" stroke="#777" stroke-width="0.5" />
<line x1="117.20" y1="91.20" x2="106.20" y2="100.70" stroke="#777" stroke-width="0.5" />
<line x1="107.95" y1="91.20" x2="115.45" y2="91.20" stroke="#555" stroke-width="1" />
<rect x="192.70" y="88.20" width="15.00" height="15.50" fill="#f4f4f4" fill-opacity="0.55" stroke="#444" stroke-width="0.8" stroke-dasharray="1.2 1"/>
<line x1="194.70" y1="91.20" x2="205.70" y2="100.70" stroke="#777" stroke-width="0.5" />
<line x1="205.70" y1="91.20" x2="194.70" y2="100.70" stroke="#777" stroke-width="0.5" />
<line x1="196.45" y1="91.20" x2="203.95" y2="91.20" stroke="#555" stroke-width="1" />
<rect x="317.50" y="88.20" width="15.00" height="15.50" fill="#f4f4f4" fill-opacity="0.55" stroke="#444" stroke-width="0.8" stroke-dasharray="1.2 1"/>
<line x1="319.50" y1="91.20" x2="330.50" y2="100.70" stroke="#777" stroke-width="0.5" />
<line x1="330.50" y1="91.20" x2="319.50" y2="100.70" stroke="#777" stroke-width="0.5" />
<line x1="321.25" y1="91.20" x2="328.75" y2="91.20" stroke="#555" stroke-width="1" />
<rect x="334.70" y="88.20" width="15.00" height="15.50" fill="#f4f4f4" fill-opacity="0.55" stroke="#444" stroke-width="0.8" stroke-dasharray="1.2 1"/>
<line x1="336.70" y1="91.20" x2="347.70" y2="100.70" stroke="#777" stroke-width="0.5" />
<line x1="347.70" y1="91.20" x2="336.70" y2="100.70" stroke="#777" stroke-width="0.5" />
<line x1="338.45" y1="91.20" x2="345.95" y2="91.20" stroke="#555" stroke-width="1" />
<rect x="104.20" y="211.80" width="15.00" height="15.80" fill="#f4f4f4" fill-opacity="0.55" stroke="#444" stroke-width="0.8" stroke-dasharray="1.2 1"/>
<line x1="106.20" y1="214.80" x2="117.20" y2="224.60" stroke="#777" stroke-width="0.5" />
<line x1="117.20" y1="214.80" x2="106.20" y2="224.60" stroke="#777" stroke-width="0.5" />
<line x1="107.95" y1="214.80" x2="115.45" y2="214.80" stroke="#555" stroke-width="1" />
<rect x="174.70" y="211.80" width="15.00" height="15.80" fill="#f4f4f4" fill-opacity="0.55" stroke="#444" stroke-width="0.8" stroke-dasharray="1.2 1"/>
<line x1="176.70" y1="214.80" x2="187.70" y2="224.60" stroke="#777" stroke-width="0.5" />
<line x1="187.70" y1="214.80" x2="176.70" y2="224.60" stroke="#777" stroke-width="0.5" />
<line x1="178.45" y1="214.80" x2="185.95" y2="214.80" stroke="#555" stroke-width="1" />
<rect x="192.70" y="211.80" width="15.00" height="15.80" fill="#f4f4f4" fill-opacity="0.55" stroke="#444" stroke-width="0.8" stroke-dasharray="1.2 1"/>
<line x1="194.70" y1="214.80" x2="205.70" y2="224.60" stroke="#777" stroke-width="0.5" />
<line x1="205.70" y1="214.80" x2="194.70" y2="224.60" stroke="#777" stroke-width="0.5" />
<line x1="196.45" y1="214.80" x2="203.95" y2="214.80" stroke="#555" stroke-width="1" />
<rect x="316.70" y="211.80" width="15.00" height="15.80" fill="#f4f4f4" fill-opacity="0.55" stroke="#444" stroke-width="0.8" stroke-dasharray="1.2 1"/>
<line x1="318.70" y1="214.80" x2="329.70" y2="224.60" stroke="#777" stroke-width="0.5" />
<line x1="329.70" y1="214.80" x2="318.70" y2="224.60" stroke="#777" stroke-width="0.5" />
<line x1="320.45" y1="214.80" x2="327.95" y2="214.80" stroke="#555" stroke-width="1" />
<rect x="334.70" y="211.80" width="15.00" height="15.80" fill="#f4f4f4" fill-opacity="0.55" stroke="#444" stroke-width="0.8" stroke-dasharray="1.2 1"/>
<line x1="336.70" y1="214.80" x2="347.70" y2="224.60" stroke="#777" stroke-width="0.5" />
<line x1="347.70" y1="214.80" x2="336.70" y2="224.60" stroke="#777" stroke-width="0.5" />
<line x1="338.45" y1="214.80" x2="345.95" y2="214.80" stroke="#555" stroke-width="1" />
<rect x="177.2" y="88.6" width="11.8" height="30" fill="#f2f2f2" stroke="#333" stroke-width="0.8"/>
<rect x="178.6" y="89.6" width="9" height="6.5" fill="#fff" stroke="#222" stroke-width="1"/>
<line x1="183.10" y1="97.00" x2="183.10" y2="118.00" stroke="#888" stroke-width="0.5" />
<rect x="179.2" y="199" width="7.5" height="20" rx="2" fill="#fafafa" stroke="#111" stroke-width="1.1"/>
<rect x="180.50" y="203.00" width="5.00" height="4.00" fill="#333" />
<line x1="219.70" y1="89.00" x2="219.70" y2="110.00" stroke="#222" stroke-width="0.5" />
<polygon points="218.4,105 221,105 219.7,110" fill="#111"/>
<line x1="279.00" y1="88.00" x2="279.00" y2="228.00" stroke="#666" stroke-width="0.5" />
<polygon points="277.7,93 280.3,93 279,88" fill="#111"/>
<line x1="231.00" y1="205.00" x2="231.00" y2="221.00" stroke="#222" stroke-width="0.8" />
<polygon points="229.6,209 232.4,209 231,204" fill="#111"/>
<rect x="253.5" y="87.8" width="8.0" height="11.200000000000003" fill="#c8ccd2" stroke="#222" stroke-width="0.8"/>
<rect x="263" y="87.8" width="8.399999999999977" height="11.200000000000003" fill="#c8ccd2" stroke="#222" stroke-width="0.8"/>
<rect x="381.2" y="87.5" width="7.800000000000011" height="12.5" fill="#c8ccd2" stroke="#222" stroke-width="0.8"/>
<rect x="253.5" y="214" width="8.0" height="14" fill="#e8eaee" stroke="#333" stroke-width="0.8"/>
<rect x="263" y="214" width="8.399999999999977" height="14" fill="#e8eaee" stroke="#333" stroke-width="0.8"/>
<rect x="380.5" y="214" width="8.199999999999989" height="14" fill="#e8eaee" stroke="#333" stroke-width="0.8"/>
<path d="M251.30,112.10 Q256.30,108.20 261.50,113.60 L261.50,119.20 Q256.30,124.60 251.30,120.70 Q254.50,116.40 251.30,112.10 Z" fill="#8e8e8e" stroke="#0e0e0e" stroke-width="1.7" stroke-linejoin="round"/>
<ellipse cx="256.90" cy="116.40" rx="2.6" ry="3" fill="#cfcfcf"/>
<circle cx="256.90" cy="116.40" r="1.40" fill="#0a0a0a" />
<path d="M273.30,112.10 Q268.30,108.20 263.10,113.60 L263.10,119.20 Q268.30,124.60 273.30,120.70 Q270.10,116.40 273.30,112.10 Z" fill="#8e8e8e" stroke="#0e0e0e" stroke-width="1.7" stroke-linejoin="round"/>
<ellipse cx="267.70" cy="116.40" rx="2.6" ry="3" fill="#cfcfcf"/>
<circle cx="267.70" cy="116.40" r="1.40" fill="#0a0a0a" />
<path d="M379.20,111.50 Q384.20,107.60 389.40,113.00 L389.40,118.60 Q384.20,124.00 379.20,120.10 Q382.40,115.80 379.20,111.50 Z" fill="#8e8e8e" stroke="#0e0e0e" stroke-width="1.7" stroke-linejoin="round"/>
<ellipse cx="384.80" cy="115.80" rx="2.6" ry="3" fill="#cfcfcf"/>
<circle cx="384.80" cy="115.80" r="1.40" fill="#0a0a0a" />
<path d="M251.30,194.70 Q256.30,190.80 261.50,196.20 L261.50,201.80 Q256.30,207.20 251.30,203.30 Q254.50,199.00 251.30,194.70 Z" fill="#8e8e8e" stroke="#0e0e0e" stroke-width="1.7" stroke-linejoin="round"/>
<ellipse cx="256.90" cy="199.00" rx="2.6" ry="3" fill="#cfcfcf"/>
<circle cx="256.90" cy="199.00" r="1.40" fill="#0a0a0a" />
<path d="M273.30,194.70 Q268.30,190.80 263.10,196.20 L263.10,201.80 Q268.30,207.20 273.30,203.30 Q270.10,199.00 273.30,194.70 Z" fill="#8e8e8e" stroke="#0e0e0e" stroke-width="1.7" stroke-linejoin="round"/>
<ellipse cx="267.70" cy="199.00" rx="2.6" ry="3" fill="#cfcfcf"/>
<circle cx="267.70" cy="199.00" r="1.40" fill="#0a0a0a" />
<path d="M379.20,194.70 Q384.20,190.80 389.40,196.20 L389.40,201.80 Q384.20,207.20 379.20,203.30 Q382.40,199.00 379.20,194.70 Z" fill="#8e8e8e" stroke="#0e0e0e" stroke-width="1.7" stroke-linejoin="round"/>
<ellipse cx="384.80" cy="199.00" rx="2.6" ry="3" fill="#cfcfcf"/>
<circle cx="384.80" cy="199.00" r="1.40" fill="#0a0a0a" />
<rect x="51" y="216.7" width="17.2" height="10.8" fill="#fff" stroke="#333" stroke-width="0.7"/>
<text x="59.6" y="225.8" font-size="9.5" text-anchor="middle" fill="#333">B</text>
<text x="90.1" y="142.8" font-size="6.5" font-weight="bold" text-anchor="middle" fill="#262626" stroke="#262626" stroke-width="0.25">CELLULE B10</text>
<text x="90.1" y="148.6" font-size="3.5" text-anchor="middle" fill="#4a4a4a">S: 231 m²</text>
<text x="161.9" y="142.8" font-size="6.5" font-weight="bold" text-anchor="middle" fill="#262626" stroke="#262626" stroke-width="0.25">CELLULE B9</text>
<text x="161.9" y="148.6" font-size="3.5" text-anchor="middle" fill="#4a4a4a">S: 225 m²</text>
<text x="221.8" y="142.8" font-size="6.5" font-weight="bold" text-anchor="middle" fill="#262626" stroke="#262626" stroke-width="0.25">CELLULE B8</text>
<text x="221.8" y="148.6" font-size="3.5" text-anchor="middle" fill="#4a4a4a">S: 231 m²</text>
<text x="302.4" y="142.8" font-size="6.5" font-weight="bold" text-anchor="middle" fill="#262626" stroke="#262626" stroke-width="0.25">CELLULE B7</text>
<text x="302.4" y="148.6" font-size="3.5" text-anchor="middle" fill="#4a4a4a">S: 231 m²</text>
<text x="360.1" y="142.8" font-size="6.5" font-weight="bold" text-anchor="middle" fill="#262626" stroke="#262626" stroke-width="0.25">CELLULE B6</text>
<text x="360.1" y="148.6" font-size="3.5" text-anchor="middle" fill="#4a4a4a">S: 174 m²</text>
<text x="89.5" y="172" font-size="6.5" font-weight="bold" text-anchor="middle" fill="#262626" stroke="#262626" stroke-width="0.25">CELLULE B1</text>
<text x="89.5" y="177.8" font-size="3.5" text-anchor="middle" fill="#4a4a4a">S: 231 m²</text>
<text x="161.4" y="172" font-size="6.5" font-weight="bold" text-anchor="middle" fill="#262626" stroke="#262626" stroke-width="0.25">CELLULE B2</text>
<text x="161.4" y="177.8" font-size="3.5" text-anchor="middle" fill="#4a4a4a">S: 225 m²</text>
<text x="221.8" y="172" font-size="6.5" font-weight="bold" text-anchor="middle" fill="#262626" stroke="#262626" stroke-width="0.25">CELLULE B3</text>
<text x="221.8" y="177.8" font-size="3.5" text-anchor="middle" fill="#4a4a4a">S: 231 m²</text>
<text x="302.4" y="172" font-size="6.5" font-weight="bold" text-anchor="middle" fill="#262626" stroke="#262626" stroke-width="0.25">CELLULE B4</text>
<text x="302.4" y="177.8" font-size="3.5" text-anchor="middle" fill="#4a4a4a">S: 231 m²</text>
<text x="360.1" y="172" font-size="6.5" font-weight="bold" text-anchor="middle" fill="#262626" stroke="#262626" stroke-width="0.25">CELLULE B5</text>
<text x="360.1" y="177.8" font-size="3.5" text-anchor="middle" fill="#4a4a4a">S: 174 m²</text>
<line x1="90.00" y1="233.00" x2="90.00" y2="241.00" stroke="#e6e6e6" stroke-width="0.9" />
<line x1="102.00" y1="233.00" x2="102.00" y2="241.00" stroke="#e6e6e6" stroke-width="0.9" />
<line x1="132.00" y1="233.00" x2="132.00" y2="241.00" stroke="#e6e6e6" stroke-width="0.9" />
<line x1="151.50" y1="233.00" x2="151.50" y2="241.00" stroke="#e6e6e6" stroke-width="0.9" />
<line x1="163.50" y1="233.00" x2="163.50" y2="241.00" stroke="#e6e6e6" stroke-width="0.9" />
<line x1="174.70" y1="233.00" x2="174.70" y2="241.00" stroke="#e6e6e6" stroke-width="0.9" />
<line x1="207.70" y1="233.00" x2="207.70" y2="241.00" stroke="#e6e6e6" stroke-width="0.9" />
<line x1="219.70" y1="233.00" x2="219.70" y2="241.00" stroke="#e6e6e6" stroke-width="0.9" />
<line x1="231.70" y1="233.00" x2="231.70" y2="241.00" stroke="#e6e6e6" stroke-width="0.9" />
<line x1="243.70" y1="233.00" x2="243.70" y2="241.00" stroke="#e6e6e6" stroke-width="0.9" />
<line x1="280.00" y1="233.00" x2="280.00" y2="241.00" stroke="#e6e6e6" stroke-width="0.9" />
<line x1="316.60" y1="233.00" x2="316.60" y2="241.00" stroke="#e6e6e6" stroke-width="0.9" />
<line x1="351.30" y1="233.00" x2="351.30" y2="241.00" stroke="#e6e6e6" stroke-width="0.9" />
<rect x="135" y="237" width="8" height="4" rx="1.2" fill="#111"/>
<rect x="136.50" y="238.00" width="5.00" height="2.00" fill="#eee" />
<rect x="165" y="237" width="9" height="4" rx="1.2" fill="#111"/>
<rect x="166.50" y="238.00" width="6.00" height="2.00" fill="#eee" />
<rect x="233.2" y="237" width="7.5" height="4" rx="1.2" fill="#111"/>
<rect x="234.70" y="238.00" width="4.50" height="2.00" fill="#eee" />
<rect x="245.2" y="237" width="6.0" height="4" rx="1.2" fill="#111"/>
<rect x="246.70" y="238.00" width="3.00" height="2.00" fill="#eee" />
<rect x="282.8" y="237" width="8.5" height="4" rx="1.2" fill="#111"/>
<rect x="284.30" y="238.00" width="5.50" height="2.00" fill="#eee" />
<rect x="294" y="237" width="9.5" height="4" rx="1.2" fill="#111"/>
<rect x="295.50" y="238.00" width="6.50" height="2.00" fill="#eee" />
<polygon points="77.48,237.50 75.85,238.85 74.42,240.06 72.80,241.31 69.30,241.49 66.46,241.78 63.36,242.34 60.21,241.93 57.60,241.12 54.55,240.34 53.45,238.93 54.42,237.50 53.81,236.11 54.90,234.75 57.61,233.89 60.47,233.30 63.15,232.07 66.72,232.45 69.71,233.14 71.74,234.21 75.32,234.69 77.15,235.99" fill="#8aa83a"/>
<circle cx="64.19" cy="237.70" r="1.54" fill="#a8c04a" opacity="0.75"/>
<circle cx="61.36" cy="235.53" r="1.15" fill="#7c9a30" opacity="0.75"/>
<circle cx="61.87" cy="238.08" r="0.82" fill="#7c9a30" opacity="0.75"/>
<circle cx="56.98" cy="239.77" r="1.21" fill="#7c9a30" opacity="0.75"/>
<circle cx="66.20" cy="238.04" r="0.86" fill="#a8c04a" opacity="0.75"/>
<circle cx="71.63" cy="239.26" r="1.11" fill="#7c9a30" opacity="0.75"/>
<circle cx="67.97" cy="239.14" r="1.27" fill="#7c9a30" opacity="0.75"/>
<circle cx="70.26" cy="239.31" r="1.59" fill="#7c9a30" opacity="0.75"/>
<circle cx="62.02" cy="241.25" r="0.75" fill="#a8c04a" opacity="0.75"/>
<circle cx="61.96" cy="240.50" r="1.40" fill="#7c9a30" opacity="0.75"/>
<circle cx="71.44" cy="235.63" r="1.61" fill="#7c9a30" opacity="0.75"/>
<circle cx="58.97" cy="234.41" r="1.38" fill="#7c9a30" opacity="0.75"/>
<circle cx="66.79" cy="236.10" r="0.94" fill="#a8c04a" opacity="0.75"/>
<circle cx="68.17" cy="236.96" r="1.10" fill="#7c9a30" opacity="0.75"/>
<circle cx="65.16" cy="241.13" r="1.69" fill="#7c9a30" opacity="0.75"/>
<circle cx="71.99" cy="234.85" r="1.44" fill="#a8c04a" opacity="0.75"/>
<circle cx="70.65" cy="239.68" r="1.31" fill="#a8c04a" opacity="0.75"/>
<circle cx="61.96" cy="235.75" r="0.97" fill="#a8c04a" opacity="0.75"/>
<circle cx="61.52" cy="235.22" r="1.18" fill="#7c9a30" opacity="0.75"/>
<circle cx="75.31" cy="237.60" r="1.21" fill="#a8c04a" opacity="0.75"/>
<circle cx="65.76" cy="233.72" r="1.20" fill="#7c9a30" opacity="0.75"/>
<circle cx="67.23" cy="235.14" r="0.77" fill="#a8c04a" opacity="0.75"/>
<circle cx="62.75" cy="237.94" r="1.19" fill="#7c9a30" opacity="0.75"/>
<circle cx="67.96" cy="237.83" r="1.71" fill="#a8c04a" opacity="0.75"/>
<circle cx="66.20" cy="234.60" r="0.76" fill="#a8c04a" opacity="0.75"/>
<circle cx="59.84" cy="234.39" r="0.73" fill="#7c9a30" opacity="0.75"/>
<circle cx="73.62" cy="237.41" r="1.60" fill="#7c9a30" opacity="0.75"/>
<circle cx="71.55" cy="240.51" r="1.02" fill="#7c9a30" opacity="0.75"/>
<circle cx="61.66" cy="234.17" r="0.94" fill="#a8c04a" opacity="0.75"/>
<circle cx="61.50" cy="236.27" r="1.06" fill="#a8c04a" opacity="0.75"/>
<circle cx="70.37" cy="235.96" r="0.98" fill="#a8c04a" opacity="0.75"/>
<circle cx="66.21" cy="239.41" r="1.26" fill="#a8c04a" opacity="0.75"/>
<circle cx="62.26" cy="238.70" r="1.14" fill="#a8c04a" opacity="0.75"/>
<circle cx="60.84" cy="233.78" r="0.89" fill="#a8c04a" opacity="0.75"/>
<circle cx="70.33" cy="239.49" r="1.40" fill="#a8c04a" opacity="0.75"/>
<circle cx="71.32" cy="236.92" r="1.27" fill="#7c9a30" opacity="0.75"/>
<circle cx="64.91" cy="240.53" r="1.64" fill="#a8c04a" opacity="0.75"/>
<circle cx="64.04" cy="241.86" r="1.34" fill="#a8c04a" opacity="0.75"/>
<circle cx="63.88" cy="238.35" r="0.95" fill="#7c9a30" opacity="0.75"/>
<circle cx="62.99" cy="240.33" r="1.04" fill="#a8c04a" opacity="0.75"/>
<polygon points="151.77,237.50 151.62,238.56 150.79,239.29 150.21,240.05 149.52,240.84 148.50,240.95 147.51,240.91 146.69,240.38 145.68,240.18 144.92,239.48 144.97,238.39 144.83,237.50 144.53,236.48 145.15,235.67 145.66,234.79 146.51,234.23 147.50,234.05 148.48,234.15 149.35,234.55 150.25,234.90 151.24,235.42 151.13,236.58" fill="#7ca030"/>
<circle cx="150.79" cy="237.75" r="1.48" fill="#b0cc50" opacity="0.75"/>
<circle cx="150.01" cy="238.88" r="1.66" fill="#b0cc50" opacity="0.75"/>
<circle cx="146.82" cy="238.33" r="0.71" fill="#b0cc50" opacity="0.75"/>
<circle cx="146.09" cy="236.21" r="1.36" fill="#b0cc50" opacity="0.75"/>
<circle cx="148.03" cy="240.51" r="0.75" fill="#7ca030" opacity="0.75"/>
<circle cx="146.88" cy="238.25" r="0.76" fill="#7ca030" opacity="0.75"/>
<circle cx="150.23" cy="237.67" r="1.74" fill="#7ca030" opacity="0.75"/>
<circle cx="146.16" cy="238.62" r="1.41" fill="#b0cc50" opacity="0.75"/>
<polygon points="269.63,237.50 268.07,238.54 267.42,239.56 265.99,240.38 263.96,240.74 262.25,241.85 259.78,241.74 257.50,241.34 256.39,240.16 253.69,239.85 252.85,238.70 253.06,237.50 252.86,236.30 254.34,235.36 256.11,234.68 258.00,234.21 259.94,233.80 262.01,233.99 264.19,234.01 266.57,234.29 268.06,235.23 269.34,236.28" fill="#3f7a26"/>
<circle cx="260.22" cy="235.92" r="1.31" fill="#8cc050" opacity="0.75"/>
<circle cx="258.31" cy="234.36" r="1.77" fill="#8cc050" opacity="0.75"/>
<circle cx="256.58" cy="234.76" r="0.94" fill="#3f7a26" opacity="0.75"/>
<circle cx="264.28" cy="240.47" r="1.63" fill="#3f7a26" opacity="0.75"/>
<circle cx="266.68" cy="236.47" r="1.06" fill="#8cc050" opacity="0.75"/>
<circle cx="259.55" cy="238.84" r="1.70" fill="#8cc050" opacity="0.75"/>
<circle cx="256.15" cy="237.93" r="0.71" fill="#3f7a26" opacity="0.75"/>
<circle cx="255.52" cy="238.64" r="1.33" fill="#8cc050" opacity="0.75"/>
<circle cx="262.00" cy="235.51" r="1.34" fill="#3f7a26" opacity="0.75"/>
<circle cx="261.51" cy="237.82" r="0.82" fill="#3f7a26" opacity="0.75"/>
<circle cx="259.75" cy="238.42" r="0.73" fill="#3f7a26" opacity="0.75"/>
<circle cx="264.57" cy="239.61" r="0.75" fill="#3f7a26" opacity="0.75"/>
<circle cx="260.88" cy="236.80" r="1.35" fill="#8cc050" opacity="0.75"/>
<circle cx="263.19" cy="240.82" r="1.29" fill="#3f7a26" opacity="0.75"/>
<circle cx="265.43" cy="235.41" r="1.48" fill="#8cc050" opacity="0.75"/>
<circle cx="263.18" cy="238.37" r="0.82" fill="#3f7a26" opacity="0.75"/>
<circle cx="267.47" cy="236.43" r="1.53" fill="#3f7a26" opacity="0.75"/>
<circle cx="263.48" cy="235.07" r="1.02" fill="#3f7a26" opacity="0.75"/>
<circle cx="265.21" cy="239.82" r="1.41" fill="#8cc050" opacity="0.75"/>
<circle cx="259.19" cy="239.45" r="0.72" fill="#8cc050" opacity="0.75"/>
<polygon points="383.34,235.50 380.97,236.84 381.37,238.57 379.74,239.95 377.14,240.68 374.36,240.92 371.68,240.75 369.32,240.10 366.51,239.78 364.58,238.59 365.07,236.83 363.61,235.50 364.92,234.14 365.20,232.64 367.56,231.92 369.05,230.56 371.60,229.93 374.44,229.79 376.95,230.55 378.80,231.68 380.74,232.66 382.02,233.99" fill="#5a9030"/>
<circle cx="371.31" cy="239.42" r="0.76" fill="#6aa040" opacity="0.75"/>
<circle cx="367.52" cy="235.68" r="1.58" fill="#2f6a20" opacity="0.75"/>
<circle cx="379.01" cy="234.78" r="1.75" fill="#6aa040" opacity="0.75"/>
<circle cx="370.54" cy="234.75" r="1.60" fill="#2f6a20" opacity="0.75"/>
<circle cx="370.77" cy="235.51" r="1.40" fill="#2f6a20" opacity="0.75"/>
<circle cx="364.66" cy="235.79" r="1.32" fill="#2f6a20" opacity="0.75"/>
<circle cx="369.86" cy="233.64" r="1.14" fill="#6aa040" opacity="0.75"/>
<circle cx="378.48" cy="232.97" r="1.16" fill="#2f6a20" opacity="0.75"/>
<circle cx="370.15" cy="237.19" r="1.17" fill="#2f6a20" opacity="0.75"/>
<circle cx="367.34" cy="238.57" r="0.96" fill="#6aa040" opacity="0.75"/>
<circle cx="377.29" cy="238.01" r="1.46" fill="#2f6a20" opacity="0.75"/>
<circle cx="370.51" cy="237.50" r="0.87" fill="#6aa040" opacity="0.75"/>
<circle cx="369.31" cy="232.08" r="0.89" fill="#6aa040" opacity="0.75"/>
<circle cx="371.61" cy="233.53" r="0.95" fill="#6aa040" opacity="0.75"/>
<circle cx="365.41" cy="236.55" r="0.96" fill="#2f6a20" opacity="0.75"/>
<circle cx="372.22" cy="239.53" r="1.61" fill="#2f6a20" opacity="0.75"/>
<circle cx="371.62" cy="230.84" r="1.50" fill="#6aa040" opacity="0.75"/>
<circle cx="375.29" cy="237.58" r="0.91" fill="#2f6a20" opacity="0.75"/>
<circle cx="376.34" cy="238.71" r="0.91" fill="#2f6a20" opacity="0.75"/>
<circle cx="380.28" cy="235.08" r="1.51" fill="#6aa040" opacity="0.75"/>
<circle cx="372.67" cy="236.76" r="1.70" fill="#6aa040" opacity="0.75"/>
<circle cx="374.29" cy="238.12" r="0.74" fill="#6aa040" opacity="0.75"/>
<circle cx="376.11" cy="233.19" r="0.94" fill="#6aa040" opacity="0.75"/>
<circle cx="370.47" cy="235.84" r="1.36" fill="#6aa040" opacity="0.75"/>
<circle cx="376.59" cy="235.57" r="1.64" fill="#6aa040" opacity="0.75"/>
<circle cx="376.74" cy="232.40" r="1.42" fill="#2f6a20" opacity="0.75"/>
<circle cx="370.24" cy="232.18" r="1.20" fill="#6aa040" opacity="0.75"/>
<circle cx="372.58" cy="239.37" r="1.68" fill="#2f6a20" opacity="0.75"/>
<circle cx="374.38" cy="231.66" r="1.39" fill="#6aa040" opacity="0.75"/>
<circle cx="376.17" cy="232.98" r="0.72" fill="#6aa040" opacity="0.75"/>
<line x1="67.70" y1="229.00" x2="67.70" y2="241.00" stroke="#111" stroke-width="1" />
<line x1="51.30" y1="229.00" x2="51.30" y2="241.00" stroke="#b06060" stroke-width="0.7" opacity="0.7"/>
<line x1="97.70" y1="229.00" x2="97.70" y2="241.00" stroke="#b06060" stroke-width="0.7" opacity="0.7"/>
<line x1="121.00" y1="229.00" x2="121.00" y2="241.00" stroke="#b06060" stroke-width="0.7" opacity="0.7"/>
<line x1="191.70" y1="229.00" x2="191.70" y2="241.00" stroke="#b06060" stroke-width="0.7" opacity="0.7"/>
<line x1="262.30" y1="229.00" x2="262.30" y2="241.00" stroke="#b06060" stroke-width="0.7" opacity="0.7"/>
<line x1="308.75" y1="229.00" x2="308.75" y2="241.00" stroke="#b06060" stroke-width="0.7" opacity="0.7"/>
<line x1="332.50" y1="229.00" x2="332.50" y2="241.00" stroke="#b06060" stroke-width="0.7" opacity="0.7"/>
<line x1="356.25" y1="229.00" x2="356.25" y2="241.00" stroke="#b06060" stroke-width="0.7" opacity="0.7"/>
</g>
<line x1="488.00" y1="285.00" x2="752.00" y2="285.00" stroke="#8c8c8c" stroke-width="1.1" />
<line x1="352.50" y1="293.80" x2="352.50" y2="305.00" stroke="#c27070" stroke-width="0.6" />
<circle cx="352.50" cy="291.00" r="2.80" fill="#fff" stroke="#c86060" stroke-width="0.75"/>
<line x1="352.50" y1="466.00" x2="352.50" y2="484.40" stroke="#c27070" stroke-width="0.6" />
<circle cx="352.50" cy="487.20" r="2.80" fill="#fff" stroke="#c86060" stroke-width="0.75"/>
<line x1="378.30" y1="293.00" x2="378.30" y2="305.00" stroke="#c27070" stroke-width="0.6" />
<circle cx="378.30" cy="291.00" r="2.00" fill="#fff" stroke="#c86060" stroke-width="0.75"/>
<line x1="378.30" y1="466.00" x2="378.30" y2="485.20" stroke="#c27070" stroke-width="0.6" />
<circle cx="378.30" cy="487.20" r="2.00" fill="#fff" stroke="#c86060" stroke-width="0.75"/>
<line x1="404.50" y1="293.00" x2="404.50" y2="305.00" stroke="#c27070" stroke-width="0.6" />
<circle cx="404.50" cy="291.00" r="2.00" fill="#fff" stroke="#c86060" stroke-width="0.75"/>
<line x1="404.50" y1="466.00" x2="404.50" y2="485.20" stroke="#c27070" stroke-width="0.6" />
<circle cx="404.50" cy="487.20" r="2.00" fill="#fff" stroke="#c86060" stroke-width="0.75"/>
<line x1="431.00" y1="293.80" x2="431.00" y2="305.00" stroke="#c27070" stroke-width="0.6" />
<circle cx="431.00" cy="291.00" r="2.80" fill="#fff" stroke="#c86060" stroke-width="0.75"/>
<line x1="431.00" y1="466.00" x2="431.00" y2="484.40" stroke="#c27070" stroke-width="0.6" />
<circle cx="431.00" cy="487.20" r="2.80" fill="#fff" stroke="#c86060" stroke-width="0.75"/>
<line x1="458.00" y1="293.00" x2="458.00" y2="305.00" stroke="#c27070" stroke-width="0.6" />
<circle cx="458.00" cy="291.00" r="2.00" fill="#fff" stroke="#c86060" stroke-width="0.75"/>
<line x1="458.00" y1="466.00" x2="458.00" y2="485.20" stroke="#c27070" stroke-width="0.6" />
<circle cx="458.00" cy="487.20" r="2.00" fill="#fff" stroke="#c86060" stroke-width="0.75"/>
<line x1="484.40" y1="293.00" x2="484.40" y2="305.00" stroke="#c27070" stroke-width="0.6" />
<circle cx="484.40" cy="291.00" r="2.00" fill="#fff" stroke="#c86060" stroke-width="0.75"/>
<line x1="484.40" y1="466.00" x2="484.40" y2="485.20" stroke="#c27070" stroke-width="0.6" />
<circle cx="484.40" cy="487.20" r="2.00" fill="#fff" stroke="#c86060" stroke-width="0.75"/>
<line x1="511.00" y1="293.80" x2="511.00" y2="305.00" stroke="#c27070" stroke-width="0.6" />
<circle cx="511.00" cy="291.00" r="2.80" fill="#fff" stroke="#c86060" stroke-width="0.75"/>
<line x1="511.00" y1="466.00" x2="511.00" y2="484.40" stroke="#c27070" stroke-width="0.6" />
<circle cx="511.00" cy="487.20" r="2.80" fill="#fff" stroke="#c86060" stroke-width="0.75"/>
<line x1="537.30" y1="293.00" x2="537.30" y2="305.00" stroke="#c27070" stroke-width="0.6" />
<circle cx="537.30" cy="291.00" r="2.00" fill="#fff" stroke="#c86060" stroke-width="0.75"/>
<line x1="537.30" y1="466.00" x2="537.30" y2="485.20" stroke="#c27070" stroke-width="0.6" />
<circle cx="537.30" cy="487.20" r="2.00" fill="#fff" stroke="#c86060" stroke-width="0.75"/>
<line x1="563.80" y1="293.00" x2="563.80" y2="305.00" stroke="#c27070" stroke-width="0.6" />
<circle cx="563.80" cy="291.00" r="2.00" fill="#fff" stroke="#c86060" stroke-width="0.75"/>
<line x1="563.80" y1="466.00" x2="563.80" y2="485.20" stroke="#c27070" stroke-width="0.6" />
<circle cx="563.80" cy="487.20" r="2.00" fill="#fff" stroke="#c86060" stroke-width="0.75"/>
<line x1="590.80" y1="293.80" x2="590.80" y2="305.00" stroke="#c27070" stroke-width="0.6" />
<circle cx="590.80" cy="291.00" r="2.80" fill="#fff" stroke="#c86060" stroke-width="0.75"/>
<line x1="590.80" y1="466.00" x2="590.80" y2="484.40" stroke="#c27070" stroke-width="0.6" />
<circle cx="590.80" cy="487.20" r="2.80" fill="#fff" stroke="#c86060" stroke-width="0.75"/>
<line x1="616.90" y1="293.00" x2="616.90" y2="305.00" stroke="#c27070" stroke-width="0.6" />
<circle cx="616.90" cy="291.00" r="2.00" fill="#fff" stroke="#c86060" stroke-width="0.75"/>
<line x1="616.90" y1="466.00" x2="616.90" y2="485.20" stroke="#c27070" stroke-width="0.6" />
<circle cx="616.90" cy="487.20" r="2.00" fill="#fff" stroke="#c86060" stroke-width="0.75"/>
<line x1="643.40" y1="293.00" x2="643.40" y2="305.00" stroke="#c27070" stroke-width="0.6" />
<circle cx="643.40" cy="291.00" r="2.00" fill="#fff" stroke="#c86060" stroke-width="0.75"/>
<line x1="643.40" y1="466.00" x2="643.40" y2="485.20" stroke="#c27070" stroke-width="0.6" />
<circle cx="643.40" cy="487.20" r="2.00" fill="#fff" stroke="#c86060" stroke-width="0.75"/>
<line x1="670.30" y1="293.80" x2="670.30" y2="305.00" stroke="#c27070" stroke-width="0.6" />
<circle cx="670.30" cy="291.00" r="2.80" fill="#fff" stroke="#c86060" stroke-width="0.75"/>
<line x1="670.30" y1="466.00" x2="670.30" y2="484.40" stroke="#c27070" stroke-width="0.6" />
<circle cx="670.30" cy="487.20" r="2.80" fill="#fff" stroke="#c86060" stroke-width="0.75"/>
<line x1="696.60" y1="293.00" x2="696.60" y2="305.00" stroke="#c27070" stroke-width="0.6" />
<circle cx="696.60" cy="291.00" r="2.00" fill="#fff" stroke="#c86060" stroke-width="0.75"/>
<line x1="696.60" y1="466.00" x2="696.60" y2="485.20" stroke="#c27070" stroke-width="0.6" />
<circle cx="696.60" cy="487.20" r="2.00" fill="#fff" stroke="#c86060" stroke-width="0.75"/>
<line x1="733.40" y1="293.80" x2="733.40" y2="305.00" stroke="#c27070" stroke-width="0.6" />
<circle cx="733.40" cy="291.00" r="2.80" fill="#fff" stroke="#c86060" stroke-width="0.75"/>
<line x1="733.40" y1="466.00" x2="733.40" y2="484.40" stroke="#c27070" stroke-width="0.6" />
<circle cx="733.40" cy="487.20" r="2.80" fill="#fff" stroke="#c86060" stroke-width="0.75"/>
<line x1="344.40" y1="308.00" x2="350.00" y2="308.00" stroke="#c27070" stroke-width="0.6" />
<circle cx="341.80" cy="308.00" r="2.60" fill="#fff" stroke="#c86060" stroke-width="0.75"/>
<line x1="344.00" y1="332.40" x2="350.00" y2="332.40" stroke="#c27070" stroke-width="0.6" />
<circle cx="341.80" cy="332.40" r="2.20" fill="#fff" stroke="#c86060" stroke-width="0.75"/>
<line x1="344.20" y1="439.50" x2="350.00" y2="439.50" stroke="#c27070" stroke-width="0.6" />
<circle cx="342.00" cy="439.50" r="2.20" fill="#fff" stroke="#c86060" stroke-width="0.75"/>
<line x1="344.60" y1="464.20" x2="350.00" y2="464.20" stroke="#c27070" stroke-width="0.6" />
<circle cx="342.00" cy="464.20" r="2.60" fill="#fff" stroke="#c86060" stroke-width="0.75"/>
<line x1="735.00" y1="307.80" x2="744.20" y2="307.80" stroke="#c27070" stroke-width="0.6" />
<circle cx="746.80" cy="307.80" r="2.60" fill="#fff" stroke="#c86060" stroke-width="0.75"/>
<line x1="735.00" y1="332.30" x2="744.00" y2="332.30" stroke="#c27070" stroke-width="0.6" />
<circle cx="746.20" cy="332.30" r="2.20" fill="#fff" stroke="#c86060" stroke-width="0.75"/>
<line x1="735.00" y1="439.30" x2="744.00" y2="439.30" stroke="#c27070" stroke-width="0.6" />
<circle cx="746.20" cy="439.30" r="2.20" fill="#fff" stroke="#c86060" stroke-width="0.75"/>
<line x1="735.00" y1="463.60" x2="744.00" y2="463.60" stroke="#c27070" stroke-width="0.6" />
<circle cx="746.70" cy="463.60" r="2.70" fill="#fff" stroke="#c86060" stroke-width="0.75"/>
<polygon points="384.12,296.50 384.04,298.98 383.13,301.49 380.82,303.51 377.10,303.86 373.95,303.86 370.72,305.56 367.21,304.97 365.66,302.27 363.37,300.79 362.17,298.72 360.31,296.50 360.16,293.85 363.49,292.27 365.21,290.35 367.28,288.15 370.87,288.22 374.03,288.74 377.28,288.86 379.17,290.87 382.94,291.60 383.24,294.19" fill="#9c9c9c"/>
<circle cx="367.71" cy="301.80" r="1.20" fill="#8a8a8a" opacity="0.75"/>
<circle cx="365.60" cy="300.54" r="0.83" fill="#b4b4b4" opacity="0.75"/>
<circle cx="369.54" cy="293.97" r="1.12" fill="#8a8a8a" opacity="0.75"/>
<circle cx="378.65" cy="296.88" r="1.16" fill="#b4b4b4" opacity="0.75"/>
<circle cx="370.09" cy="295.53" r="1.03" fill="#b4b4b4" opacity="0.75"/>
<circle cx="379.08" cy="294.59" r="0.94" fill="#b4b4b4" opacity="0.75"/>
<circle cx="369.08" cy="297.11" r="1.72" fill="#8a8a8a" opacity="0.75"/>
<circle cx="375.39" cy="291.12" r="1.22" fill="#8a8a8a" opacity="0.75"/>
<circle cx="373.80" cy="294.30" r="1.43" fill="#b4b4b4" opacity="0.75"/>
<circle cx="367.61" cy="297.23" r="1.30" fill="#8a8a8a" opacity="0.75"/>
<circle cx="373.73" cy="291.76" r="1.56" fill="#8a8a8a" opacity="0.75"/>
<circle cx="371.87" cy="300.70" r="0.98" fill="#b4b4b4" opacity="0.75"/>
<circle cx="369.60" cy="292.08" r="1.59" fill="#b4b4b4" opacity="0.75"/>
<circle cx="367.44" cy="301.09" r="1.05" fill="#b4b4b4" opacity="0.75"/>
<circle cx="365.35" cy="299.02" r="1.43" fill="#b4b4b4" opacity="0.75"/>
<circle cx="375.42" cy="299.54" r="1.12" fill="#8a8a8a" opacity="0.75"/>
<circle cx="377.11" cy="290.18" r="1.56" fill="#8a8a8a" opacity="0.75"/>
<circle cx="367.11" cy="295.73" r="1.34" fill="#8a8a8a" opacity="0.75"/>
<circle cx="373.04" cy="298.02" r="1.02" fill="#8a8a8a" opacity="0.75"/>
<circle cx="364.17" cy="293.23" r="0.90" fill="#b4b4b4" opacity="0.75"/>
<circle cx="370.58" cy="298.52" r="1.69" fill="#8a8a8a" opacity="0.75"/>
<circle cx="366.08" cy="292.64" r="1.77" fill="#8a8a8a" opacity="0.75"/>
<circle cx="367.73" cy="290.31" r="1.57" fill="#b4b4b4" opacity="0.75"/>
<circle cx="375.21" cy="302.27" r="1.28" fill="#b4b4b4" opacity="0.75"/>
<circle cx="371.14" cy="294.65" r="0.83" fill="#b4b4b4" opacity="0.75"/>
<circle cx="372.82" cy="298.82" r="1.24" fill="#8a8a8a" opacity="0.75"/>
<circle cx="362.75" cy="297.20" r="1.47" fill="#8a8a8a" opacity="0.75"/>
<circle cx="365.32" cy="296.56" r="1.65" fill="#8a8a8a" opacity="0.75"/>
<circle cx="375.31" cy="299.75" r="1.47" fill="#b4b4b4" opacity="0.75"/>
<circle cx="367.74" cy="290.60" r="1.11" fill="#b4b4b4" opacity="0.75"/>
<circle cx="380.72" cy="296.50" r="0.90" fill="#b4b4b4" opacity="0.75"/>
<circle cx="371.69" cy="295.82" r="1.37" fill="#b4b4b4" opacity="0.75"/>
<circle cx="373.41" cy="294.78" r="1.23" fill="#8a8a8a" opacity="0.75"/>
<circle cx="380.83" cy="297.82" r="1.39" fill="#b4b4b4" opacity="0.75"/>
<circle cx="379.21" cy="299.81" r="1.08" fill="#8a8a8a" opacity="0.75"/>
<circle cx="371.34" cy="300.40" r="0.98" fill="#8a8a8a" opacity="0.75"/>
<circle cx="374.81" cy="293.28" r="1.61" fill="#b4b4b4" opacity="0.75"/>
<circle cx="367.33" cy="303.01" r="1.66" fill="#b4b4b4" opacity="0.75"/>
<circle cx="380.47" cy="295.58" r="1.57" fill="#b4b4b4" opacity="0.75"/>
<circle cx="375.51" cy="302.30" r="0.84" fill="#8a8a8a" opacity="0.75"/>
<circle cx="372.82" cy="295.42" r="1.49" fill="#b4b4b4" opacity="0.75"/>
<circle cx="370.85" cy="296.15" r="1.03" fill="#8a8a8a" opacity="0.75"/>
<circle cx="381.36" cy="298.44" r="1.22" fill="#8a8a8a" opacity="0.75"/>
<circle cx="374.88" cy="289.53" r="1.37" fill="#8a8a8a" opacity="0.75"/>
<circle cx="366.65" cy="292.13" r="1.36" fill="#8a8a8a" opacity="0.75"/>
<circle cx="374.40" cy="302.30" r="1.20" fill="#8a8a8a" opacity="0.75"/>
<circle cx="375.50" cy="298.12" r="0.74" fill="#8a8a8a" opacity="0.75"/>
<circle cx="379.42" cy="293.47" r="1.11" fill="#8a8a8a" opacity="0.75"/>
<circle cx="374.17" cy="291.26" r="0.98" fill="#b4b4b4" opacity="0.75"/>
<circle cx="373.05" cy="297.42" r="0.72" fill="#8a8a8a" opacity="0.75"/>
<circle cx="365.46" cy="296.57" r="1.61" fill="#b4b4b4" opacity="0.75"/>
<circle cx="363.70" cy="293.21" r="1.19" fill="#8a8a8a" opacity="0.75"/>
<circle cx="369.26" cy="291.47" r="1.79" fill="#8a8a8a" opacity="0.75"/>
<circle cx="366.46" cy="297.19" r="0.81" fill="#b4b4b4" opacity="0.75"/>
<circle cx="373.29" cy="298.88" r="0.72" fill="#8a8a8a" opacity="0.75"/>
<circle cx="380.66" cy="296.85" r="1.79" fill="#8a8a8a" opacity="0.75"/>
<circle cx="373.08" cy="298.60" r="1.22" fill="#b4b4b4" opacity="0.75"/>
<circle cx="371.65" cy="293.31" r="1.51" fill="#8a8a8a" opacity="0.75"/>
<circle cx="377.53" cy="294.56" r="1.52" fill="#8a8a8a" opacity="0.75"/>
<circle cx="372.20" cy="294.79" r="1.39" fill="#b4b4b4" opacity="0.75"/>
<circle cx="362.83" cy="298.29" r="0.98" fill="#8a8a8a" opacity="0.75"/>
<circle cx="372.35" cy="295.99" r="0.72" fill="#8a8a8a" opacity="0.75"/>
<circle cx="368.53" cy="298.93" r="1.36" fill="#b4b4b4" opacity="0.75"/>
<circle cx="368.46" cy="294.09" r="1.74" fill="#b4b4b4" opacity="0.75"/>
<circle cx="369.02" cy="296.99" r="1.76" fill="#8a8a8a" opacity="0.75"/>
<circle cx="367.28" cy="300.92" r="1.39" fill="#b4b4b4" opacity="0.75"/>
<circle cx="363.65" cy="297.44" r="1.20" fill="#b4b4b4" opacity="0.75"/>
<circle cx="374.10" cy="291.22" r="1.02" fill="#8a8a8a" opacity="0.75"/>
<circle cx="366.70" cy="292.43" r="1.58" fill="#b4b4b4" opacity="0.75"/>
<circle cx="378.36" cy="291.92" r="0.72" fill="#8a8a8a" opacity="0.75"/>
<polygon points="728.30,294.50 727.07,296.53 726.09,298.52 724.88,300.77 721.38,301.17 718.56,302.33 715.28,302.18 711.83,302.06 709.06,300.65 708.04,298.37 707.54,296.37 706.43,294.50 706.43,292.41 707.34,290.32 709.05,288.34 711.84,286.96 715.50,287.86 718.61,286.40 721.88,287.09 724.85,288.26 726.43,290.34 726.98,292.49" fill="#ababab"/>
<circle cx="722.12" cy="289.69" r="1.45" fill="#c4c4c4" opacity="0.75"/>
<circle cx="715.60" cy="295.77" r="1.31" fill="#c4c4c4" opacity="0.75"/>
<circle cx="719.48" cy="299.95" r="1.72" fill="#9a9a9a" opacity="0.75"/>
<circle cx="716.24" cy="295.64" r="1.14" fill="#9a9a9a" opacity="0.75"/>
<circle cx="723.39" cy="292.29" r="0.71" fill="#c4c4c4" opacity="0.75"/>
<circle cx="714.65" cy="294.90" r="1.59" fill="#9a9a9a" opacity="0.75"/>
<circle cx="717.67" cy="299.37" r="1.69" fill="#c4c4c4" opacity="0.75"/>
<circle cx="709.70" cy="295.23" r="0.91" fill="#9a9a9a" opacity="0.75"/>
<circle cx="724.25" cy="297.77" r="1.02" fill="#c4c4c4" opacity="0.75"/>
<circle cx="711.39" cy="297.13" r="0.86" fill="#9a9a9a" opacity="0.75"/>
<circle cx="722.69" cy="292.42" r="1.65" fill="#c4c4c4" opacity="0.75"/>
<circle cx="711.08" cy="290.14" r="0.87" fill="#9a9a9a" opacity="0.75"/>
<circle cx="713.11" cy="298.30" r="0.72" fill="#9a9a9a" opacity="0.75"/>
<circle cx="719.49" cy="300.51" r="1.32" fill="#9a9a9a" opacity="0.75"/>
<circle cx="716.27" cy="300.34" r="1.17" fill="#c4c4c4" opacity="0.75"/>
<circle cx="717.86" cy="288.50" r="1.76" fill="#c4c4c4" opacity="0.75"/>
<circle cx="719.80" cy="291.55" r="1.79" fill="#c4c4c4" opacity="0.75"/>
<circle cx="718.35" cy="295.07" r="1.31" fill="#c4c4c4" opacity="0.75"/>
<circle cx="707.89" cy="295.01" r="1.68" fill="#c4c4c4" opacity="0.75"/>
<circle cx="724.07" cy="291.91" r="0.80" fill="#c4c4c4" opacity="0.75"/>
<circle cx="709.86" cy="292.45" r="1.75" fill="#c4c4c4" opacity="0.75"/>
<circle cx="720.62" cy="300.12" r="1.11" fill="#9a9a9a" opacity="0.75"/>
<circle cx="720.94" cy="294.36" r="0.74" fill="#c4c4c4" opacity="0.75"/>
<circle cx="718.61" cy="294.05" r="1.31" fill="#9a9a9a" opacity="0.75"/>
<circle cx="717.73" cy="293.57" r="1.57" fill="#c4c4c4" opacity="0.75"/>
<circle cx="719.85" cy="295.23" r="1.53" fill="#9a9a9a" opacity="0.75"/>
<circle cx="714.75" cy="291.55" r="1.35" fill="#9a9a9a" opacity="0.75"/>
<circle cx="711.47" cy="295.19" r="1.13" fill="#c4c4c4" opacity="0.75"/>
<circle cx="713.49" cy="294.77" r="0.96" fill="#9a9a9a" opacity="0.75"/>
<circle cx="724.92" cy="291.24" r="1.21" fill="#9a9a9a" opacity="0.75"/>
<circle cx="717.89" cy="292.37" r="1.62" fill="#9a9a9a" opacity="0.75"/>
<circle cx="725.30" cy="291.98" r="1.68" fill="#9a9a9a" opacity="0.75"/>
<circle cx="718.62" cy="287.98" r="1.72" fill="#c4c4c4" opacity="0.75"/>
<circle cx="721.04" cy="290.19" r="1.20" fill="#c4c4c4" opacity="0.75"/>
<circle cx="715.06" cy="297.05" r="0.83" fill="#c4c4c4" opacity="0.75"/>
<circle cx="719.43" cy="296.65" r="0.76" fill="#c4c4c4" opacity="0.75"/>
<circle cx="713.94" cy="293.80" r="1.66" fill="#c4c4c4" opacity="0.75"/>
<circle cx="713.14" cy="295.94" r="0.73" fill="#c4c4c4" opacity="0.75"/>
<circle cx="715.16" cy="296.51" r="1.24" fill="#c4c4c4" opacity="0.75"/>
<circle cx="710.69" cy="295.69" r="0.87" fill="#9a9a9a" opacity="0.75"/>
<circle cx="711.01" cy="290.18" r="1.72" fill="#c4c4c4" opacity="0.75"/>
<circle cx="718.32" cy="292.87" r="1.53" fill="#c4c4c4" opacity="0.75"/>
<circle cx="712.83" cy="295.76" r="0.96" fill="#9a9a9a" opacity="0.75"/>
<circle cx="720.79" cy="296.36" r="1.69" fill="#9a9a9a" opacity="0.75"/>
<circle cx="721.78" cy="288.67" r="0.86" fill="#9a9a9a" opacity="0.75"/>
<circle cx="710.68" cy="296.11" r="1.26" fill="#c4c4c4" opacity="0.75"/>
<circle cx="725.86" cy="294.57" r="1.28" fill="#9a9a9a" opacity="0.75"/>
<circle cx="715.97" cy="295.27" r="1.15" fill="#c4c4c4" opacity="0.75"/>
<circle cx="714.15" cy="293.60" r="0.90" fill="#9a9a9a" opacity="0.75"/>
<circle cx="716.00" cy="292.01" r="0.79" fill="#9a9a9a" opacity="0.75"/>
<circle cx="723.26" cy="290.89" r="1.54" fill="#9a9a9a" opacity="0.75"/>
<circle cx="718.93" cy="299.37" r="1.48" fill="#9a9a9a" opacity="0.75"/>
<circle cx="713.58" cy="293.20" r="0.77" fill="#c4c4c4" opacity="0.75"/>
<circle cx="722.04" cy="289.07" r="1.27" fill="#c4c4c4" opacity="0.75"/>
<circle cx="712.30" cy="299.77" r="1.65" fill="#c4c4c4" opacity="0.75"/>
<circle cx="721.84" cy="296.64" r="1.54" fill="#9a9a9a" opacity="0.75"/>
<circle cx="720.04" cy="292.29" r="0.90" fill="#c4c4c4" opacity="0.75"/>
<circle cx="724.78" cy="295.76" r="1.33" fill="#9a9a9a" opacity="0.75"/>
<circle cx="710.97" cy="299.62" r="1.77" fill="#9a9a9a" opacity="0.75"/>
<circle cx="722.83" cy="298.32" r="1.60" fill="#c4c4c4" opacity="0.75"/>
<polygon points="384.69,481.00 384.45,484.42 382.34,487.13 380.80,490.23 377.18,490.60 374.23,490.94 371.13,492.64 368.24,490.99 366.37,488.42 362.74,487.47 363.09,483.85 362.38,481.00 363.21,478.18 363.17,474.81 366.11,473.28 368.39,471.35 371.20,469.84 374.56,468.75 376.87,472.08 380.85,471.71 382.71,474.63 382.84,478.05" fill="#b2b2b2"/>
<circle cx="376.78" cy="474.49" r="1.21" fill="#a0a0a0" opacity="0.75"/>
<circle cx="372.05" cy="478.56" r="1.66" fill="#a0a0a0" opacity="0.75"/>
<circle cx="375.53" cy="481.80" r="1.24" fill="#c8c8c8" opacity="0.75"/>
<circle cx="374.98" cy="482.80" r="1.67" fill="#a0a0a0" opacity="0.75"/>
<circle cx="374.84" cy="478.57" r="1.33" fill="#c8c8c8" opacity="0.75"/>
<circle cx="377.37" cy="488.66" r="1.73" fill="#c8c8c8" opacity="0.75"/>
<circle cx="370.26" cy="474.11" r="1.36" fill="#a0a0a0" opacity="0.75"/>
<circle cx="365.16" cy="486.88" r="1.55" fill="#c8c8c8" opacity="0.75"/>
<circle cx="365.50" cy="486.26" r="1.49" fill="#c8c8c8" opacity="0.75"/>
<circle cx="376.40" cy="472.69" r="0.76" fill="#a0a0a0" opacity="0.75"/>
<circle cx="382.07" cy="478.49" r="0.97" fill="#c8c8c8" opacity="0.75"/>
<circle cx="372.44" cy="480.41" r="0.82" fill="#a0a0a0" opacity="0.75"/>
<circle cx="378.29" cy="483.55" r="1.26" fill="#a0a0a0" opacity="0.75"/>
<circle cx="373.71" cy="486.88" r="1.14" fill="#c8c8c8" opacity="0.75"/>
<circle cx="366.90" cy="474.46" r="1.67" fill="#a0a0a0" opacity="0.75"/>
<circle cx="380.28" cy="482.64" r="0.99" fill="#c8c8c8" opacity="0.75"/>
<circle cx="366.71" cy="474.66" r="0.74" fill="#a0a0a0" opacity="0.75"/>
<circle cx="372.78" cy="487.76" r="1.18" fill="#a0a0a0" opacity="0.75"/>
<circle cx="371.65" cy="485.77" r="1.41" fill="#a0a0a0" opacity="0.75"/>
<circle cx="381.86" cy="484.61" r="1.71" fill="#c8c8c8" opacity="0.75"/>
<circle cx="379.09" cy="484.69" r="1.73" fill="#c8c8c8" opacity="0.75"/>
<circle cx="374.91" cy="483.08" r="1.02" fill="#c8c8c8" opacity="0.75"/>
<circle cx="368.73" cy="478.85" r="1.51" fill="#c8c8c8" opacity="0.75"/>
<circle cx="376.77" cy="474.72" r="1.33" fill="#c8c8c8" opacity="0.75"/>
<circle cx="375.26" cy="488.76" r="1.21" fill="#c8c8c8" opacity="0.75"/>
<circle cx="367.98" cy="476.87" r="1.04" fill="#a0a0a0" opacity="0.75"/>
<circle cx="370.95" cy="484.18" r="1.30" fill="#c8c8c8" opacity="0.75"/>
<circle cx="378.14" cy="481.40" r="1.65" fill="#a0a0a0" opacity="0.75"/>
<circle cx="370.52" cy="485.56" r="1.00" fill="#a0a0a0" opacity="0.75"/>
<circle cx="370.39" cy="489.22" r="0.87" fill="#a0a0a0" opacity="0.75"/>
<circle cx="368.62" cy="477.72" r="1.42" fill="#c8c8c8" opacity="0.75"/>
<circle cx="375.51" cy="476.37" r="1.54" fill="#a0a0a0" opacity="0.75"/>
<circle cx="380.70" cy="480.47" r="1.73" fill="#c8c8c8" opacity="0.75"/>
<circle cx="370.02" cy="485.57" r="1.44" fill="#c8c8c8" opacity="0.75"/>
<circle cx="375.71" cy="474.93" r="1.51" fill="#c8c8c8" opacity="0.75"/>
<circle cx="371.91" cy="488.53" r="1.40" fill="#a0a0a0" opacity="0.75"/>
<circle cx="370.61" cy="482.33" r="1.15" fill="#a0a0a0" opacity="0.75"/>
<circle cx="363.03" cy="481.13" r="1.33" fill="#c8c8c8" opacity="0.75"/>
<circle cx="375.53" cy="477.24" r="1.38" fill="#a0a0a0" opacity="0.75"/>
<circle cx="368.28" cy="485.27" r="1.20" fill="#c8c8c8" opacity="0.75"/>
<circle cx="371.28" cy="486.48" r="1.31" fill="#c8c8c8" opacity="0.75"/>
<circle cx="372.50" cy="480.60" r="1.52" fill="#c8c8c8" opacity="0.75"/>
<circle cx="369.25" cy="484.31" r="1.29" fill="#a0a0a0" opacity="0.75"/>
<circle cx="367.68" cy="483.19" r="0.96" fill="#c8c8c8" opacity="0.75"/>
<circle cx="368.76" cy="489.07" r="1.62" fill="#c8c8c8" opacity="0.75"/>
<circle cx="374.50" cy="486.75" r="1.70" fill="#a0a0a0" opacity="0.75"/>
<circle cx="377.16" cy="481.71" r="1.69" fill="#c8c8c8" opacity="0.75"/>
<circle cx="380.32" cy="476.88" r="1.29" fill="#c8c8c8" opacity="0.75"/>
<circle cx="366.11" cy="480.26" r="1.45" fill="#c8c8c8" opacity="0.75"/>
<circle cx="371.37" cy="481.33" r="1.44" fill="#c8c8c8" opacity="0.75"/>
<circle cx="380.29" cy="478.46" r="1.28" fill="#a0a0a0" opacity="0.75"/>
<circle cx="367.23" cy="484.56" r="1.41" fill="#a0a0a0" opacity="0.75"/>
<circle cx="379.93" cy="474.29" r="1.24" fill="#c8c8c8" opacity="0.75"/>
<circle cx="373.82" cy="471.67" r="1.35" fill="#a0a0a0" opacity="0.75"/>
<circle cx="375.20" cy="485.42" r="1.78" fill="#c8c8c8" opacity="0.75"/>
<circle cx="370.14" cy="480.79" r="1.68" fill="#c8c8c8" opacity="0.75"/>
<circle cx="377.06" cy="472.02" r="1.68" fill="#c8c8c8" opacity="0.75"/>
<circle cx="368.19" cy="476.02" r="1.60" fill="#a0a0a0" opacity="0.75"/>
<circle cx="369.13" cy="480.89" r="0.90" fill="#a0a0a0" opacity="0.75"/>
<circle cx="366.78" cy="488.94" r="1.40" fill="#a0a0a0" opacity="0.75"/>
<circle cx="372.56" cy="480.39" r="0.70" fill="#a0a0a0" opacity="0.75"/>
<circle cx="377.79" cy="478.14" r="0.81" fill="#a0a0a0" opacity="0.75"/>
<circle cx="370.94" cy="477.72" r="1.25" fill="#c8c8c8" opacity="0.75"/>
<circle cx="379.25" cy="474.22" r="1.27" fill="#a0a0a0" opacity="0.75"/>
<circle cx="367.56" cy="478.35" r="0.83" fill="#a0a0a0" opacity="0.75"/>
<circle cx="366.17" cy="480.23" r="0.73" fill="#a0a0a0" opacity="0.75"/>
<circle cx="376.04" cy="486.95" r="1.61" fill="#c8c8c8" opacity="0.75"/>
<circle cx="373.46" cy="479.23" r="0.71" fill="#c8c8c8" opacity="0.75"/>
<circle cx="375.41" cy="484.32" r="1.00" fill="#a0a0a0" opacity="0.75"/>
<circle cx="372.54" cy="483.49" r="1.69" fill="#a0a0a0" opacity="0.75"/>
<circle cx="369.20" cy="486.03" r="1.12" fill="#a0a0a0" opacity="0.75"/>
<circle cx="373.87" cy="486.63" r="1.54" fill="#a0a0a0" opacity="0.75"/>
<circle cx="365.83" cy="483.78" r="0.97" fill="#a0a0a0" opacity="0.75"/>
<circle cx="376.72" cy="487.12" r="0.89" fill="#a0a0a0" opacity="0.75"/>
<circle cx="379.92" cy="475.75" r="1.03" fill="#c8c8c8" opacity="0.75"/>
<circle cx="379.16" cy="479.37" r="1.74" fill="#a0a0a0" opacity="0.75"/>
<circle cx="369.31" cy="473.91" r="1.34" fill="#c8c8c8" opacity="0.75"/>
<circle cx="369.45" cy="489.60" r="1.23" fill="#a0a0a0" opacity="0.75"/>
<circle cx="375.74" cy="482.80" r="1.12" fill="#a0a0a0" opacity="0.75"/>
<circle cx="377.49" cy="480.15" r="1.32" fill="#a0a0a0" opacity="0.75"/>
<polygon points="727.63,480.50 728.63,483.79 725.89,486.04 724.44,488.87 721.97,491.32 718.29,490.87 714.91,492.15 711.90,490.34 709.45,488.35 707.19,486.23 706.19,483.39 705.49,480.50 706.37,477.66 708.24,475.40 708.68,471.82 712.27,471.41 715.23,470.90 718.20,470.72 721.49,470.68 724.69,471.86 726.41,474.65 727.54,477.52" fill="#8e8e8e"/>
<circle cx="717.91" cy="476.58" r="1.10" fill="#7a7a7a" opacity="0.75"/>
<circle cx="715.72" cy="475.23" r="1.75" fill="#7a7a7a" opacity="0.75"/>
<circle cx="714.78" cy="486.38" r="0.92" fill="#a4a4a4" opacity="0.75"/>
<circle cx="712.23" cy="472.24" r="1.80" fill="#a4a4a4" opacity="0.75"/>
<circle cx="711.91" cy="477.75" r="0.97" fill="#7a7a7a" opacity="0.75"/>
<circle cx="722.78" cy="486.23" r="1.45" fill="#7a7a7a" opacity="0.75"/>
<circle cx="712.19" cy="479.34" r="1.55" fill="#a4a4a4" opacity="0.75"/>
<circle cx="724.96" cy="481.91" r="0.86" fill="#7a7a7a" opacity="0.75"/>
<circle cx="714.89" cy="481.91" r="0.89" fill="#7a7a7a" opacity="0.75"/>
<circle cx="713.25" cy="487.27" r="0.82" fill="#a4a4a4" opacity="0.75"/>
<circle cx="719.65" cy="472.85" r="0.91" fill="#a4a4a4" opacity="0.75"/>
<circle cx="720.84" cy="482.89" r="1.60" fill="#a4a4a4" opacity="0.75"/>
<circle cx="715.50" cy="485.95" r="1.70" fill="#7a7a7a" opacity="0.75"/>
<circle cx="720.03" cy="479.19" r="1.10" fill="#a4a4a4" opacity="0.75"/>
<circle cx="717.60" cy="479.86" r="1.47" fill="#a4a4a4" opacity="0.75"/>
<circle cx="716.79" cy="489.19" r="1.09" fill="#7a7a7a" opacity="0.75"/>
<circle cx="717.87" cy="482.89" r="1.70" fill="#7a7a7a" opacity="0.75"/>
<circle cx="716.35" cy="479.14" r="0.74" fill="#7a7a7a" opacity="0.75"/>
<circle cx="708.84" cy="483.93" r="0.87" fill="#7a7a7a" opacity="0.75"/>
<circle cx="709.36" cy="478.15" r="1.74" fill="#7a7a7a" opacity="0.75"/>
<circle cx="709.12" cy="477.15" r="0.98" fill="#a4a4a4" opacity="0.75"/>
<circle cx="713.16" cy="474.46" r="1.73" fill="#7a7a7a" opacity="0.75"/>
<circle cx="721.14" cy="473.38" r="1.01" fill="#7a7a7a" opacity="0.75"/>
<circle cx="721.95" cy="475.58" r="1.47" fill="#7a7a7a" opacity="0.75"/>
<circle cx="716.10" cy="479.29" r="1.05" fill="#a4a4a4" opacity="0.75"/>
<circle cx="716.69" cy="478.30" r="1.46" fill="#a4a4a4" opacity="0.75"/>
<circle cx="724.35" cy="480.41" r="0.94" fill="#7a7a7a" opacity="0.75"/>
<circle cx="710.91" cy="488.06" r="1.19" fill="#a4a4a4" opacity="0.75"/>
<circle cx="713.64" cy="473.03" r="1.61" fill="#a4a4a4" opacity="0.75"/>
<circle cx="708.61" cy="480.09" r="0.93" fill="#7a7a7a" opacity="0.75"/>
<circle cx="712.94" cy="480.73" r="1.75" fill="#a4a4a4" opacity="0.75"/>
<circle cx="718.28" cy="483.38" r="1.56" fill="#7a7a7a" opacity="0.75"/>
<circle cx="712.41" cy="479.36" r="0.77" fill="#a4a4a4" opacity="0.75"/>
<circle cx="715.29" cy="482.39" r="1.40" fill="#7a7a7a" opacity="0.75"/>
<circle cx="722.14" cy="486.40" r="1.44" fill="#7a7a7a" opacity="0.75"/>
<circle cx="716.57" cy="480.08" r="1.46" fill="#7a7a7a" opacity="0.75"/>
<circle cx="721.73" cy="478.49" r="1.03" fill="#7a7a7a" opacity="0.75"/>
<circle cx="712.98" cy="478.36" r="1.39" fill="#7a7a7a" opacity="0.75"/>
<circle cx="708.41" cy="478.07" r="0.89" fill="#7a7a7a" opacity="0.75"/>
<circle cx="711.46" cy="476.99" r="1.54" fill="#7a7a7a" opacity="0.75"/>
<circle cx="720.36" cy="483.51" r="1.10" fill="#7a7a7a" opacity="0.75"/>
<circle cx="725.93" cy="482.92" r="1.03" fill="#7a7a7a" opacity="0.75"/>
<circle cx="714.81" cy="474.84" r="0.82" fill="#a4a4a4" opacity="0.75"/>
<circle cx="709.83" cy="482.82" r="1.02" fill="#7a7a7a" opacity="0.75"/>
<circle cx="722.93" cy="482.22" r="1.78" fill="#a4a4a4" opacity="0.75"/>
<circle cx="723.95" cy="484.46" r="1.78" fill="#a4a4a4" opacity="0.75"/>
<circle cx="721.87" cy="484.45" r="1.18" fill="#7a7a7a" opacity="0.75"/>
<circle cx="717.79" cy="475.75" r="1.10" fill="#7a7a7a" opacity="0.75"/>
<circle cx="711.93" cy="474.78" r="1.73" fill="#a4a4a4" opacity="0.75"/>
<circle cx="715.43" cy="478.79" r="1.52" fill="#7a7a7a" opacity="0.75"/>
<circle cx="718.11" cy="471.96" r="1.03" fill="#7a7a7a" opacity="0.75"/>
<circle cx="723.46" cy="478.96" r="1.69" fill="#7a7a7a" opacity="0.75"/>
<circle cx="723.43" cy="485.22" r="1.04" fill="#a4a4a4" opacity="0.75"/>
<circle cx="710.97" cy="485.58" r="1.09" fill="#7a7a7a" opacity="0.75"/>
<circle cx="711.85" cy="485.44" r="1.11" fill="#a4a4a4" opacity="0.75"/>
<circle cx="716.80" cy="481.91" r="1.32" fill="#a4a4a4" opacity="0.75"/>
<circle cx="724.89" cy="475.29" r="1.24" fill="#a4a4a4" opacity="0.75"/>
<circle cx="715.47" cy="471.00" r="1.36" fill="#7a7a7a" opacity="0.75"/>
<circle cx="719.35" cy="483.57" r="0.85" fill="#a4a4a4" opacity="0.75"/>
<circle cx="717.95" cy="481.24" r="1.18" fill="#7a7a7a" opacity="0.75"/>
<circle cx="717.82" cy="485.70" r="0.74" fill="#a4a4a4" opacity="0.75"/>
<circle cx="718.01" cy="482.05" r="0.76" fill="#a4a4a4" opacity="0.75"/>
<circle cx="718.20" cy="479.34" r="0.71" fill="#7a7a7a" opacity="0.75"/>
<circle cx="719.55" cy="478.66" r="1.03" fill="#a4a4a4" opacity="0.75"/>
<circle cx="719.40" cy="473.35" r="1.32" fill="#a4a4a4" opacity="0.75"/>
<circle cx="721.18" cy="482.98" r="1.21" fill="#7a7a7a" opacity="0.75"/>
<circle cx="726.57" cy="478.99" r="1.38" fill="#7a7a7a" opacity="0.75"/>
<circle cx="715.80" cy="475.62" r="1.42" fill="#a4a4a4" opacity="0.75"/>
<circle cx="723.01" cy="478.69" r="1.41" fill="#a4a4a4" opacity="0.75"/>
<circle cx="721.34" cy="475.58" r="1.40" fill="#7a7a7a" opacity="0.75"/>
<circle cx="718.17" cy="488.39" r="1.46" fill="#7a7a7a" opacity="0.75"/>
<circle cx="713.68" cy="476.01" r="1.34" fill="#a4a4a4" opacity="0.75"/>
<circle cx="713.93" cy="483.64" r="1.19" fill="#a4a4a4" opacity="0.75"/>
<circle cx="719.46" cy="482.76" r="1.68" fill="#7a7a7a" opacity="0.75"/>
<circle cx="718.35" cy="488.99" r="1.41" fill="#7a7a7a" opacity="0.75"/>
<circle cx="712.31" cy="479.69" r="1.24" fill="#a4a4a4" opacity="0.75"/>
<circle cx="717.78" cy="487.30" r="0.82" fill="#7a7a7a" opacity="0.75"/>
<circle cx="721.54" cy="474.38" r="1.58" fill="#7a7a7a" opacity="0.75"/>
<circle cx="721.38" cy="475.42" r="1.49" fill="#7a7a7a" opacity="0.75"/>
<circle cx="709.70" cy="473.81" r="1.27" fill="#a4a4a4" opacity="0.75"/>
<rect x="350.80" y="305.90" width="80.40" height="26.80" fill="#e8e5dd" />
<rect x="350.80" y="439.40" width="80.40" height="26.60" fill="#f9ebd3" />
<rect x="431.20" y="305.90" width="79.90" height="26.80" fill="#f8ebd2" />
<rect x="431.20" y="439.40" width="79.90" height="26.60" fill="#e6e3db" />
<rect x="511.10" y="305.90" width="79.70" height="26.80" fill="#e5f2fb" />
<rect x="511.10" y="439.40" width="79.70" height="26.60" fill="#e5f2fb" />
<rect x="590.80" y="305.90" width="80.00" height="26.80" fill="#e5f2fb" />
<rect x="590.80" y="439.40" width="80.00" height="26.60" fill="#e5f2fb" />
<rect x="670.80" y="305.90" width="63.80" height="26.80" fill="#e5f2fb" />
<rect x="670.80" y="439.40" width="63.80" height="26.60" fill="#e5f2fb" />
<line x1="350.00" y1="332.70" x2="735.00" y2="332.70" stroke="#1e1e1e" stroke-width="1.1" />
<line x1="350.00" y1="439.40" x2="735.00" y2="439.40" stroke="#1e1e1e" stroke-width="1.1" />
<line x1="511.00" y1="386.40" x2="735.00" y2="386.40" stroke="#222" stroke-width="1" />
<line x1="511.10" y1="305.90" x2="511.10" y2="466.00" stroke="#2a2a2a" stroke-width="1.1" />
<line x1="590.80" y1="305.90" x2="590.80" y2="466.00" stroke="#2a2a2a" stroke-width="1.1" />
<line x1="670.80" y1="305.90" x2="670.80" y2="466.00" stroke="#2a2a2a" stroke-width="1.1" />
<line x1="431.20" y1="285.00" x2="431.20" y2="490.00" stroke="#c86a6a" stroke-width="0.75" stroke-dasharray="4 1"/>
<polygon points="376.4,385 378.4,385 377.4,388" fill="#222"/>
<polygon points="403.8,385 405.8,385 404.8,388" fill="#222"/>
<polygon points="457,385 459,385 458,388" fill="#222"/>
<polygon points="483,385 485,385 484,388" fill="#222"/>
<rect x="536.70" y="385.60" width="1.60" height="1.60" fill="#111" />
<rect x="563.00" y="385.60" width="1.60" height="1.60" fill="#111" />
<rect x="616.20" y="385.60" width="1.60" height="1.60" fill="#111" />
<rect x="642.60" y="385.60" width="1.60" height="1.60" fill="#111" />
<rect x="695.80" y="385.60" width="1.60" height="1.60" fill="#111" />
<rect x="382.8" y="352.6" width="17" height="11" fill="none" stroke="#333" stroke-width="0.8" stroke-dasharray="1.3 1"/>
<rect x="462.4" y="352.6" width="17" height="11" fill="none" stroke="#333" stroke-width="0.8" stroke-dasharray="1.3 1"/>
<rect x="542.8" y="353.2" width="17" height="11" fill="none" stroke="#333" stroke-width="0.8" stroke-dasharray="1.3 1"/>
<rect x="621.9" y="353.4" width="17" height="11" fill="none" stroke="#333" stroke-width="0.8" stroke-dasharray="1.3 1"/>
<rect x="693.8" y="353.4" width="17" height="11" fill="none" stroke="#333" stroke-width="0.8" stroke-dasharray="1.3 1"/>
<rect x="383.2" y="407.5" width="17" height="11" fill="none" stroke="#333" stroke-width="0.8" stroke-dasharray="1.3 1"/>
<rect x="462.4" y="407.5" width="17" height="11" fill="none" stroke="#333" stroke-width="0.8" stroke-dasharray="1.3 1"/>
<rect x="542.8" y="407.4" width="17" height="11" fill="none" stroke="#333" stroke-width="0.8" stroke-dasharray="1.3 1"/>
<rect x="621.9" y="407.4" width="17" height="11" fill="none" stroke="#333" stroke-width="0.8" stroke-dasharray="1.3 1"/>
<rect x="693.8" y="407.4" width="17" height="11" fill="none" stroke="#333" stroke-width="0.8" stroke-dasharray="1.3 1"/>
<rect x="350.6" y="305.9" width="384.0" height="160.10000000000002" fill="none" stroke="#111" stroke-width="2"/>
<line x1="351.60" y1="305.90" x2="733.60" y2="305.90" stroke="#fff" stroke-width="2.4" />
<line x1="350.00" y1="306.20" x2="735.00" y2="306.20" stroke="#3a3232" stroke-width="1.1" />
<line x1="349.60" y1="305.90" x2="361.00" y2="305.90" stroke="#0e0e0e" stroke-width="2.1" />
<line x1="398.70" y1="305.90" x2="442.50" y2="305.90" stroke="#0e0e0e" stroke-width="2.1" />
<line x1="453.70" y1="305.90" x2="462.00" y2="305.90" stroke="#0e0e0e" stroke-width="2.1" />
<line x1="480.00" y1="305.90" x2="540.00" y2="305.90" stroke="#0e0e0e" stroke-width="2.1" />
<line x1="560.00" y1="305.90" x2="567.00" y2="305.90" stroke="#0e0e0e" stroke-width="2.1" />
<line x1="580.00" y1="305.90" x2="601.00" y2="305.90" stroke="#0e0e0e" stroke-width="2.1" />
<line x1="613.70" y1="305.90" x2="620.00" y2="305.90" stroke="#0e0e0e" stroke-width="2.1" />
<line x1="640.00" y1="305.90" x2="670.00" y2="305.90" stroke="#0e0e0e" stroke-width="2.1" />
<line x1="695.00" y1="305.90" x2="708.70" y2="305.90" stroke="#0e0e0e" stroke-width="2.1" />
<line x1="721.00" y1="305.90" x2="735.60" y2="305.90" stroke="#0e0e0e" stroke-width="2.1" />
<line x1="542.00" y1="306.10" x2="560.00" y2="306.10" stroke="#8a8a8a" stroke-width="1.5" />
<line x1="567.00" y1="306.10" x2="580.00" y2="306.10" stroke="#8a8a8a" stroke-width="1.5" />
<line x1="360.00" y1="466.00" x2="366.00" y2="466.00" stroke="#c8c8c8" stroke-width="0.7" />
<line x1="380.00" y1="466.00" x2="399.00" y2="466.00" stroke="#c8c8c8" stroke-width="0.7" />
<line x1="441.00" y1="466.00" x2="452.50" y2="466.00" stroke="#c8c8c8" stroke-width="0.7" />
<line x1="461.00" y1="466.00" x2="480.00" y2="466.00" stroke="#c8c8c8" stroke-width="0.7" />
<line x1="542.50" y1="466.00" x2="560.00" y2="466.00" stroke="#c8c8c8" stroke-width="0.7" />
<line x1="566.00" y1="466.00" x2="580.00" y2="466.00" stroke="#c8c8c8" stroke-width="0.7" />
<line x1="602.50" y1="466.00" x2="607.50" y2="466.00" stroke="#c8c8c8" stroke-width="0.7" />
<line x1="620.00" y1="466.00" x2="639.00" y2="466.00" stroke="#c8c8c8" stroke-width="0.7" />
<line x1="675.00" y1="466.00" x2="692.50" y2="466.00" stroke="#c8c8c8" stroke-width="0.7" />
<line x1="695.00" y1="466.00" x2="705.00" y2="466.00" stroke="#c8c8c8" stroke-width="0.7" />
<rect x="349.80" y="315.00" width="1.80" height="14.00" fill="#bbb" />
<rect x="349.80" y="450.00" width="1.80" height="12.00" fill="#bbb" />
<rect x="733.70" y="314.00" width="1.80" height="12.00" fill="#bbb" />
<rect x="733.70" y="444.00" width="1.80" height="14.00" fill="#bbb" />
<path d="M577.4,332.90000000000003 L577.4,339.3 A6.1 6.1 0 0 0 589.6,339.3 L589.6,332.90000000000003 Z" fill="#f6f6f6" stroke="#111" stroke-width="1.5"/>
<line x1="578.20" y1="337.50" x2="588.80" y2="337.50" stroke="#555" stroke-width="0.6" />
<circle cx="583.5" cy="339.6" r="3.9" fill="none" stroke="#6a6a6a" stroke-width="1.5" stroke-dasharray="0.9 0.6"/>
<circle cx="583.50" cy="339.60" r="1.50" fill="#111" />
<rect x="578.0" y="327.5" width="5.8" height="4.4" fill="#e8e8e8" stroke="#333" stroke-width="0.7"/>
<path d="M591.5,332.90000000000003 L591.5,339.3 A6.1 6.1 0 0 0 603.7,339.3 L603.7,332.90000000000003 Z" fill="#f6f6f6" stroke="#111" stroke-width="1.5"/>
<line x1="592.30" y1="337.50" x2="602.90" y2="337.50" stroke="#555" stroke-width="0.6" />
<circle cx="597.6" cy="339.6" r="3.9" fill="none" stroke="#6a6a6a" stroke-width="1.5" stroke-dasharray="0.9 0.6"/>
<circle cx="597.60" cy="339.60" r="1.50" fill="#111" />
<rect x="592.1" y="327.5" width="5.8" height="4.4" fill="#e8e8e8" stroke="#333" stroke-width="0.7"/>
<path d="M721.4,333.1 L721.4,339.5 A6.1 6.1 0 0 0 733.6,339.5 L733.6,333.1 Z" fill="#f6f6f6" stroke="#111" stroke-width="1.5"/>
<line x1="722.20" y1="337.70" x2="732.80" y2="337.70" stroke="#555" stroke-width="0.6" />
<circle cx="727.5" cy="339.8" r="3.9" fill="none" stroke="#6a6a6a" stroke-width="1.5" stroke-dasharray="0.9 0.6"/>
<circle cx="727.50" cy="339.80" r="1.50" fill="#111" />
<rect x="722.0" y="327.7" width="5.8" height="4.4" fill="#e8e8e8" stroke="#333" stroke-width="0.7"/>
<path d="M577.4,439.2 L577.4,432.8 A6.1 6.1 0 0 1 589.6,432.8 L589.6,439.2 Z" fill="#f6f6f6" stroke="#111" stroke-width="1.5"/>
<line x1="578.20" y1="434.60" x2="588.80" y2="434.60" stroke="#555" stroke-width="0.6" />
<circle cx="583.5" cy="433.1" r="3.9" fill="none" stroke="#6a6a6a" stroke-width="1.5" stroke-dasharray="0.9 0.6"/>
<circle cx="583.50" cy="433.10" r="1.50" fill="#111" />
<rect x="578.0" y="440.1" width="5.8" height="4.4" fill="#e8e8e8" stroke="#333" stroke-width="0.7"/>
<path d="M591.5,439.2 L591.5,432.8 A6.1 6.1 0 0 1 603.7,432.8 L603.7,439.2 Z" fill="#f6f6f6" stroke="#111" stroke-width="1.5"/>
<line x1="592.30" y1="434.60" x2="602.90" y2="434.60" stroke="#555" stroke-width="0.6" />
<circle cx="597.6" cy="433.1" r="3.9" fill="none" stroke="#6a6a6a" stroke-width="1.5" stroke-dasharray="0.9 0.6"/>
<circle cx="597.60" cy="433.10" r="1.50" fill="#111" />
<rect x="592.1" y="440.1" width="5.8" height="4.4" fill="#e8e8e8" stroke="#333" stroke-width="0.7"/>
<path d="M721.4,439.0 L721.4,432.6 A6.1 6.1 0 0 1 733.6,432.6 L733.6,439.0 Z" fill="#f6f6f6" stroke="#111" stroke-width="1.5"/>
<line x1="722.20" y1="434.40" x2="732.80" y2="434.40" stroke="#555" stroke-width="0.6" />
<circle cx="727.5" cy="432.90000000000003" r="3.9" fill="none" stroke="#6a6a6a" stroke-width="1.5" stroke-dasharray="0.9 0.6"/>
<circle cx="727.50" cy="432.90" r="1.50" fill="#111" />
<rect x="722.0" y="439.9" width="5.8" height="4.4" fill="#e8e8e8" stroke="#333" stroke-width="0.7"/>
<path d="M357.5,332.7 L357.5,329.7 Q360.5,327.2 363.5,329.7 L363.5,332.7 Z" fill="#d8d8d8" stroke="#111" stroke-width="1"/>
<rect x="357.5" y="333.9" width="6" height="5" fill="#f0f0f0" stroke="#888" stroke-width="0.7"/>
<path d="M437.5,332.7 L437.5,329.7 Q440.5,327.2 443.5,329.7 L443.5,332.7 Z" fill="#d8d8d8" stroke="#111" stroke-width="1"/>
<rect x="437.5" y="333.9" width="6" height="5" fill="#f0f0f0" stroke="#888" stroke-width="0.7"/>
<rect x="357.5" y="433.2" width="6" height="5" fill="#f0f0f0" stroke="#777" stroke-width="0.7"/>
<path d="M357.5,439.4 L357.5,442.4 Q360.5,444.9 363.5,442.4 L363.5,439.4 Z" fill="#d8d8d8" stroke="#111" stroke-width="1"/>
<rect x="437.5" y="433.2" width="6" height="5" fill="#f0f0f0" stroke="#777" stroke-width="0.7"/>
<path d="M437.5,439.4 L437.5,442.4 Q440.5,444.9 443.5,442.4 L443.5,439.4 Z" fill="#d8d8d8" stroke="#111" stroke-width="1"/>
<text x="356.75" y="322" font-size="7.8" font-weight="bold" textLength="48.3" lengthAdjust="spacingAndGlyphs" fill="#1e222a" stroke="#1e222a" stroke-width="0.2">CELLULE B10</text>
<text x="380.9" y="328.2" font-size="4" text-anchor="middle" fill="#444">S: 74 m²</text>
<text x="450.30" y="322" font-size="7.8" font-weight="bold" textLength="44.8" lengthAdjust="spacingAndGlyphs" fill="#1e222a" stroke="#1e222a" stroke-width="0.2">CELLULE B9</text>
<text x="472.7" y="328" font-size="4" text-anchor="middle" fill="#444">S: 74 m²</text>
<text x="530.10" y="319.9" font-size="7.8" font-weight="bold" textLength="44.8" lengthAdjust="spacingAndGlyphs" fill="#1e222a" stroke="#1e222a" stroke-width="0.2">CELLULE B8</text>
<text x="552.5" y="326.5" font-size="4" text-anchor="middle" fill="#444">S: 76 m²</text>
<text x="607.40" y="319.7" font-size="7.8" font-weight="bold" textLength="44.8" lengthAdjust="spacingAndGlyphs" fill="#1e222a" stroke="#1e222a" stroke-width="0.2">CELLULE B7</text>
<text x="629.8" y="326.3" font-size="4" text-anchor="middle" fill="#444">S: 74 m²</text>
<text x="679.00" y="319.6" font-size="7.8" font-weight="bold" textLength="44.8" lengthAdjust="spacingAndGlyphs" fill="#1e222a" stroke="#1e222a" stroke-width="0.2">CELLULE B6</text>
<text x="701.4" y="326.3" font-size="4" text-anchor="middle" fill="#444">S: 63 m²</text>
<text x="360.80" y="450.5" font-size="7.8" font-weight="bold" textLength="44.8" lengthAdjust="spacingAndGlyphs" fill="#1e222a" stroke="#1e222a" stroke-width="0.2">CELLULE B1</text>
<text x="383.2" y="457" font-size="4" text-anchor="middle" fill="#444">S: 74 m²</text>
<text x="448.70" y="450.3" font-size="7.8" font-weight="bold" textLength="44.8" lengthAdjust="spacingAndGlyphs" fill="#1e222a" stroke="#1e222a" stroke-width="0.2">CELLULE B2</text>
<text x="471.1" y="457" font-size="4" text-anchor="middle" fill="#444">S: 76 m²</text>
<text x="532.00" y="450.5" font-size="7.8" font-weight="bold" textLength="44.8" lengthAdjust="spacingAndGlyphs" fill="#1e222a" stroke="#1e222a" stroke-width="0.2">CELLULE B3</text>
<text x="554.4" y="457" font-size="4" text-anchor="middle" fill="#444">S: 74 m²</text>
<text x="607.50" y="450.3" font-size="7.8" font-weight="bold" textLength="44.8" lengthAdjust="spacingAndGlyphs" fill="#1e222a" stroke="#1e222a" stroke-width="0.2">CELLULE B4</text>
<text x="629.9" y="457" font-size="4" text-anchor="middle" fill="#444">S: 74 m²</text>
<text x="680.50" y="450" font-size="7.8" font-weight="bold" textLength="44.8" lengthAdjust="spacingAndGlyphs" fill="#1e222a" stroke="#1e222a" stroke-width="0.2">CELLULE B5</text>
<text x="702.9" y="456.5" font-size="4" text-anchor="middle" fill="#444">S: 59 m²</text>
<text x="383" y="461.5" font-size="3" text-anchor="middle" fill="#444">1</text>
</svg></body></html>
